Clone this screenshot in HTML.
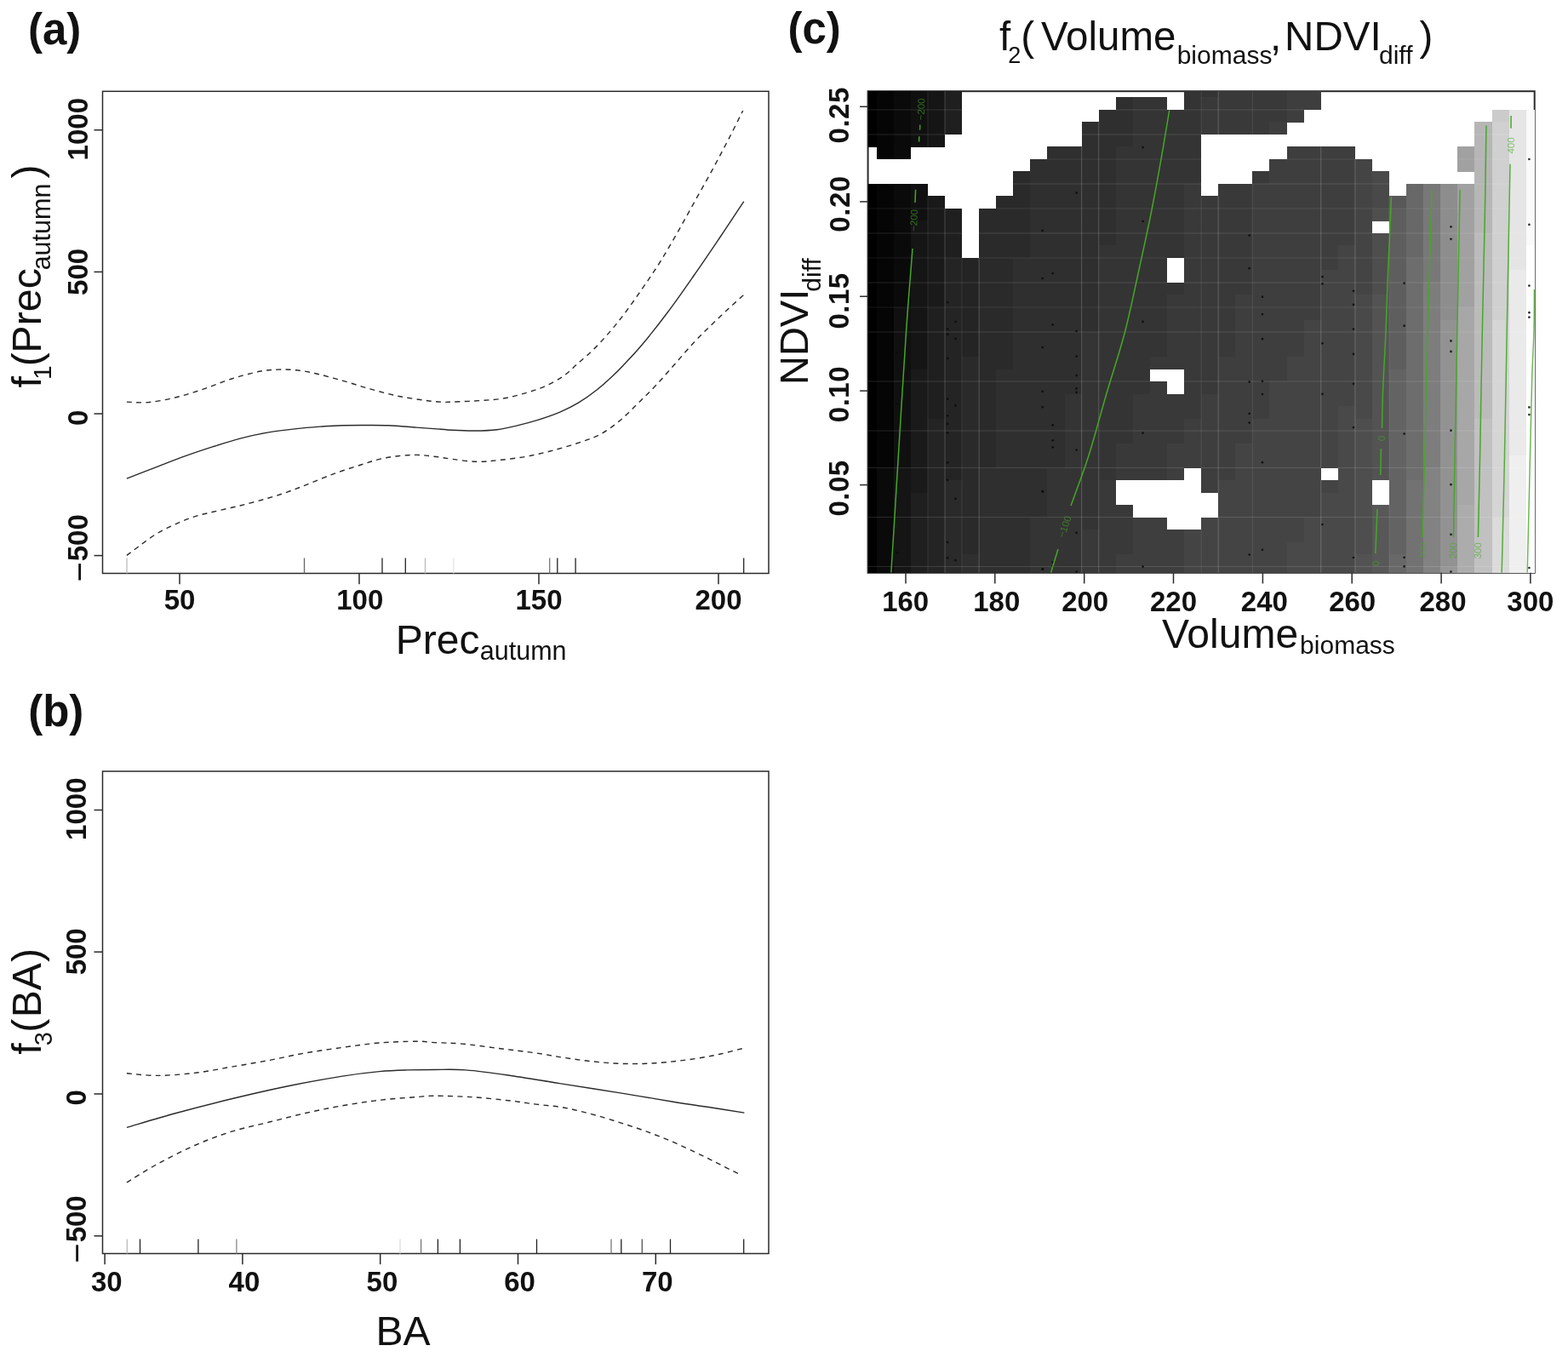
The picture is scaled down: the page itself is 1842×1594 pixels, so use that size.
<!DOCTYPE html>
<html lang="en">
<head>
<meta charset="utf-8">
<title>GAM partial effects</title>
<style>
html,body{margin:0;padding:0;background:#fff;}
body{width:1842px;height:1594px;overflow:hidden;}
svg{display:block;font-family:'Liberation Sans', sans-serif;}
</style>
</head>
<body>
<svg width="1842" height="1594" viewBox="0 0 1842 1594">
<rect x="0" y="0" width="1842" height="1594" fill="#fff"/>
<g id="panel-a">
<rect x="120.5" y="107.3" width="782.5" height="566.2" fill="none" stroke="#2a2a2a" stroke-width="1.50"/>
<line x1="110.5" y1="152.7" x2="120.5" y2="152.7" stroke="#2a2a2a" stroke-width="1.50" />
<text x="103.4" y="151.7" font-size="33" font-weight="bold" text-anchor="middle" fill="#111" transform="rotate(-90 103.4 151.7)" >1000</text>
<line x1="110.5" y1="319.4" x2="120.5" y2="319.4" stroke="#2a2a2a" stroke-width="1.50" />
<text x="103.4" y="319.4" font-size="33" font-weight="bold" text-anchor="middle" fill="#111" transform="rotate(-90 103.4 319.4)" >500</text>
<line x1="110.5" y1="486.0" x2="120.5" y2="486.0" stroke="#2a2a2a" stroke-width="1.50" />
<text x="103.4" y="490.9" font-size="33" font-weight="bold" text-anchor="middle" fill="#111" transform="rotate(-90 103.4 490.9)" >0</text>
<line x1="110.5" y1="652.6" x2="120.5" y2="652.6" stroke="#2a2a2a" stroke-width="1.50" />
<text x="103.4" y="683.6" fill="#111" transform="rotate(-90 103.4 683.6)"><tspan font-size="40" dy="3.4">−</tspan><tspan font-size="33" font-weight="bold" dx="1.0" dy="-3.4">500</tspan></text>
<line x1="211.0" y1="673.5" x2="211.0" y2="686.2" stroke="#2a2a2a" stroke-width="1.50" />
<text x="211.0" y="716.2" font-size="33" font-weight="bold" text-anchor="middle" fill="#111" >50</text>
<line x1="422.0" y1="673.5" x2="422.0" y2="686.2" stroke="#2a2a2a" stroke-width="1.50" />
<text x="422.8" y="716.2" font-size="33" font-weight="bold" text-anchor="middle" fill="#111" >100</text>
<line x1="633.0" y1="673.5" x2="633.0" y2="686.2" stroke="#2a2a2a" stroke-width="1.50" />
<text x="633.0" y="716.2" font-size="33" font-weight="bold" text-anchor="middle" fill="#111" >150</text>
<line x1="844.0" y1="673.5" x2="844.0" y2="686.2" stroke="#2a2a2a" stroke-width="1.50" />
<text x="844.0" y="716.2" font-size="33" font-weight="bold" text-anchor="middle" fill="#111" >200</text>
<line x1="149.0" y1="655.5" x2="149.0" y2="673.5" stroke="#bbb" stroke-width="1.30" />
<line x1="357.5" y1="655.5" x2="357.5" y2="673.5" stroke="#666" stroke-width="1.30" />
<line x1="449.0" y1="655.5" x2="449.0" y2="673.5" stroke="#222" stroke-width="1.30" />
<line x1="476.3" y1="655.5" x2="476.3" y2="673.5" stroke="#222" stroke-width="1.30" />
<line x1="499.5" y1="655.5" x2="499.5" y2="673.5" stroke="#bbb" stroke-width="1.30" />
<line x1="532.8" y1="655.5" x2="532.8" y2="673.5" stroke="#e4e4e4" stroke-width="1.30" />
<line x1="645.7" y1="655.5" x2="645.7" y2="673.5" stroke="#777" stroke-width="1.30" />
<line x1="654.8" y1="655.5" x2="654.8" y2="673.5" stroke="#222" stroke-width="1.30" />
<line x1="676.1" y1="655.5" x2="676.1" y2="673.5" stroke="#222" stroke-width="1.30" />
<line x1="873.7" y1="655.5" x2="873.7" y2="673.5" stroke="#222" stroke-width="1.30" />
<path d="M148.9 562.2C154.9 559.9 173.6 552.5 185.1 548.1C196.6 543.7 206.8 539.6 217.7 535.7C228.6 531.8 239.4 528.2 250.3 524.7C261.2 521.2 272.0 517.7 282.9 514.9C293.8 512.1 304.5 509.8 315.4 507.9C326.2 506.0 337.1 504.8 348.0 503.6C358.9 502.4 371.6 501.5 380.6 500.8C389.7 500.1 395.1 499.9 402.3 499.7C409.5 499.5 414.9 499.5 424.0 499.5C433.1 499.5 445.7 499.3 456.6 499.7C467.5 500.1 480.3 501.5 489.2 502.1C498.1 502.8 502.9 503.1 510.0 503.6C517.1 504.1 523.7 504.9 531.7 505.3C539.7 505.7 549.1 506.1 557.8 506.0C566.5 505.9 575.5 505.7 583.8 504.7C592.1 503.7 599.7 501.8 607.7 499.9C615.7 498.0 623.3 496.0 631.6 493.4C639.9 490.8 649.7 487.5 657.7 484.1C665.7 480.7 672.2 477.6 679.4 473.2C686.6 468.8 694.6 463.1 701.1 458.0C707.6 452.9 713.5 447.5 718.5 442.8C723.5 438.1 725.6 436.0 731.4 429.9C737.2 423.8 744.3 416.8 753.1 406.3C761.9 395.8 773.9 380.8 784.2 367.0C794.6 353.2 804.9 338.3 815.2 323.5C825.6 308.7 836.5 292.5 846.3 278.0C856.1 263.5 869.2 243.5 873.8 236.6" fill="none" stroke="#2a2a2a" stroke-width="1.4"/>
<path d="M148.9 472.1C153.1 472.2 164.6 473.5 174.3 472.6C184.0 471.7 196.1 469.3 206.9 466.7C217.8 464.1 228.6 460.5 239.4 456.9C250.2 453.3 261.1 448.4 272.0 445.0C282.9 441.6 295.6 438.1 304.6 436.3C313.7 434.5 319.1 434.4 326.3 434.1C333.5 433.9 340.8 434.1 348.0 434.8C355.2 435.5 360.6 436.4 369.7 438.5C378.8 440.6 391.4 444.0 402.3 447.1C413.2 450.2 424.0 453.9 434.9 456.9C445.8 459.9 456.5 462.9 467.4 465.2C478.2 467.4 491.2 469.2 500.0 470.4C508.8 471.6 514.7 471.9 520.0 472.2C525.3 472.5 524.3 472.4 531.7 472.1C539.1 471.8 554.2 471.3 564.3 470.6C574.4 469.9 583.5 469.4 592.5 467.8C601.5 466.2 610.6 463.7 618.6 461.3C626.6 458.9 633.1 457.0 640.3 453.7C647.5 450.4 655.8 446.0 662.0 441.7C668.2 437.4 671.0 433.9 677.6 428.0C684.2 422.1 693.0 415.1 701.4 406.3C709.8 397.5 719.7 386.2 728.3 375.3C736.9 364.4 745.2 352.5 753.1 341.1C761.0 329.7 768.6 318.6 775.9 307.0C783.1 295.4 789.7 283.9 796.6 271.8C803.5 259.7 810.4 246.9 817.3 234.5C824.2 222.1 831.5 209.4 838.0 197.3C844.5 185.2 850.8 173.3 856.6 162.1C862.4 150.9 870.0 135.3 872.7 130.0" fill="none" stroke="#2a2a2a" stroke-width="1.4" stroke-dasharray="6 5.3"/>
<path d="M148.9 652.4C151.3 650.6 157.4 645.9 163.4 641.5C169.4 637.1 177.8 630.6 185.1 626.3C192.3 621.9 199.7 618.6 206.9 615.4C214.2 612.1 221.4 609.1 228.6 606.8C235.8 604.4 241.2 603.5 250.3 601.3C259.4 599.1 272.0 596.4 282.9 593.7C293.8 591.0 306.3 587.6 315.4 585.0C324.4 582.4 329.9 580.6 337.2 578.1C344.4 575.6 349.9 573.3 358.9 569.8C367.9 566.2 380.5 560.8 391.4 556.8C402.2 552.8 414.9 548.9 424.0 546.0C433.1 543.1 438.5 541.1 445.7 539.4C452.9 537.7 460.1 536.5 467.4 535.7C474.6 534.9 482.1 534.3 489.2 534.4C496.3 534.5 502.9 535.4 510.0 536.2C517.1 537.0 523.4 538.4 531.7 539.4C540.0 540.4 550.9 542.1 559.9 542.3C568.9 542.5 576.2 541.5 586.0 540.5C595.8 539.5 607.7 538.2 618.6 536.2C629.5 534.2 640.4 531.5 651.2 528.6C662.1 525.7 674.7 521.9 683.7 518.8C692.7 515.7 698.1 514.1 705.4 510.1C712.6 506.1 720.0 500.9 727.2 494.9C734.5 488.9 741.7 481.4 748.9 474.3C756.1 467.2 763.3 460.3 770.6 452.6C777.9 444.9 785.1 436.4 792.5 428.0C799.9 419.6 808.0 409.9 815.2 402.2C822.4 394.4 829.0 388.2 835.9 381.5C842.8 374.8 850.3 367.7 856.6 361.8C862.9 355.9 870.9 348.9 873.8 346.3" fill="none" stroke="#2a2a2a" stroke-width="1.4" stroke-dasharray="6 5.3"/>
</g>
<g id="panel-b">
<rect x="120.5" y="906.0" width="782.5" height="566.5" fill="none" stroke="#2a2a2a" stroke-width="1.50"/>
<line x1="110.5" y1="951.5" x2="120.5" y2="951.5" stroke="#2a2a2a" stroke-width="1.50" />
<text x="101.0" y="950.2" font-size="33" font-weight="bold" text-anchor="middle" fill="#111" transform="rotate(-90 101.0 950.2)" >1000</text>
<line x1="110.5" y1="1118.2" x2="120.5" y2="1118.2" stroke="#2a2a2a" stroke-width="1.50" />
<text x="101.0" y="1117.8" font-size="33" font-weight="bold" text-anchor="middle" fill="#111" transform="rotate(-90 101.0 1117.8)" >500</text>
<line x1="110.5" y1="1285.0" x2="120.5" y2="1285.0" stroke="#2a2a2a" stroke-width="1.50" />
<text x="101.0" y="1289.3" font-size="33" font-weight="bold" text-anchor="middle" fill="#111" transform="rotate(-90 101.0 1289.3)" >0</text>
<line x1="110.5" y1="1451.8" x2="120.5" y2="1451.8" stroke="#2a2a2a" stroke-width="1.50" />
<text x="101.0" y="1483.7" fill="#111" transform="rotate(-90 101.0 1483.7)"><tspan font-size="40" dy="3.4">−</tspan><tspan font-size="33" font-weight="bold" dx="1.0" dy="-3.4">500</tspan></text>
<line x1="123.1" y1="1472.5" x2="123.1" y2="1485.2" stroke="#2a2a2a" stroke-width="1.50" />
<text x="125.3" y="1516.8" font-size="33" font-weight="bold" text-anchor="middle" fill="#111" >30</text>
<line x1="284.9" y1="1472.5" x2="284.9" y2="1485.2" stroke="#2a2a2a" stroke-width="1.50" />
<text x="286.9" y="1516.8" font-size="33" font-weight="bold" text-anchor="middle" fill="#111" >40</text>
<line x1="446.7" y1="1472.5" x2="446.7" y2="1485.2" stroke="#2a2a2a" stroke-width="1.50" />
<text x="448.9" y="1516.8" font-size="33" font-weight="bold" text-anchor="middle" fill="#111" >50</text>
<line x1="608.5" y1="1472.5" x2="608.5" y2="1485.2" stroke="#2a2a2a" stroke-width="1.50" />
<text x="610.5" y="1516.8" font-size="33" font-weight="bold" text-anchor="middle" fill="#111" >60</text>
<line x1="770.3" y1="1472.5" x2="770.3" y2="1485.2" stroke="#2a2a2a" stroke-width="1.50" />
<text x="772.3" y="1516.8" font-size="33" font-weight="bold" text-anchor="middle" fill="#111" >70</text>
<line x1="149.3" y1="1455.5" x2="149.3" y2="1472.5" stroke="#bbb" stroke-width="1.30" />
<line x1="164.5" y1="1455.5" x2="164.5" y2="1472.5" stroke="#222" stroke-width="1.30" />
<line x1="232.9" y1="1455.5" x2="232.9" y2="1472.5" stroke="#222" stroke-width="1.30" />
<line x1="277.9" y1="1455.5" x2="277.9" y2="1472.5" stroke="#888" stroke-width="1.30" />
<line x1="470.0" y1="1455.5" x2="470.0" y2="1472.5" stroke="#ddd" stroke-width="1.30" />
<line x1="494.6" y1="1455.5" x2="494.6" y2="1472.5" stroke="#777" stroke-width="1.30" />
<line x1="514.4" y1="1455.5" x2="514.4" y2="1472.5" stroke="#222" stroke-width="1.30" />
<line x1="540.4" y1="1455.5" x2="540.4" y2="1472.5" stroke="#222" stroke-width="1.30" />
<line x1="630.5" y1="1455.5" x2="630.5" y2="1472.5" stroke="#222" stroke-width="1.30" />
<line x1="718.0" y1="1455.5" x2="718.0" y2="1472.5" stroke="#777" stroke-width="1.30" />
<line x1="729.8" y1="1455.5" x2="729.8" y2="1472.5" stroke="#222" stroke-width="1.30" />
<line x1="754.3" y1="1455.5" x2="754.3" y2="1472.5" stroke="#555" stroke-width="1.30" />
<line x1="787.5" y1="1455.5" x2="787.5" y2="1472.5" stroke="#222" stroke-width="1.30" />
<line x1="873.7" y1="1455.5" x2="873.7" y2="1472.5" stroke="#222" stroke-width="1.30" />
<path d="M148.9 1324.4C158.6 1321.6 186.4 1313.1 206.9 1307.5C227.4 1301.9 250.3 1296.0 272.0 1290.8C293.7 1285.5 315.5 1280.5 337.2 1276.0C358.9 1271.5 384.2 1267.0 402.3 1264.1C420.4 1261.2 433.0 1259.8 445.7 1258.6C458.4 1257.4 467.6 1257.2 478.3 1256.9C489.0 1256.6 498.6 1256.5 510.0 1256.5C521.4 1256.5 532.4 1255.8 546.9 1256.9C561.4 1258.0 577.7 1260.2 596.9 1263.0C616.1 1265.8 640.3 1270.0 662.0 1273.4C683.7 1276.8 705.5 1280.1 727.2 1283.6C748.9 1287.1 774.2 1291.6 792.3 1294.5C810.4 1297.4 822.0 1298.9 835.7 1301.0C849.4 1303.1 868.0 1306.1 874.4 1307.1" fill="none" stroke="#2a2a2a" stroke-width="1.4"/>
<path d="M148.9 1260.8C154.9 1261.2 171.8 1263.5 185.1 1263.4C198.4 1263.3 214.1 1262.1 228.6 1260.4C243.1 1258.7 257.5 1255.7 272.0 1253.2C286.5 1250.7 300.9 1248.3 315.4 1245.6C329.9 1242.9 344.4 1239.4 358.9 1236.9C373.4 1234.4 387.8 1232.4 402.3 1230.4C416.8 1228.4 431.2 1226.2 445.7 1225.0C460.2 1223.8 478.5 1223.3 489.2 1223.2C499.9 1223.1 501.1 1224.1 510.0 1224.6C518.9 1225.1 529.9 1224.9 542.6 1226.1C555.3 1227.2 571.5 1229.7 586.0 1231.5C600.5 1233.3 616.7 1235.1 629.4 1236.9C642.1 1238.7 651.1 1240.7 662.0 1242.3C672.9 1243.9 683.7 1245.5 694.6 1246.7C705.5 1247.9 716.4 1248.9 727.2 1249.3C738.1 1249.7 748.9 1249.7 759.7 1249.3C770.6 1248.9 781.4 1247.9 792.3 1246.7C803.2 1245.5 815.8 1243.8 824.9 1242.3C834.0 1240.8 838.4 1239.9 846.6 1238.0C854.9 1236.1 869.8 1232.2 874.4 1231.1" fill="none" stroke="#2a2a2a" stroke-width="1.4" stroke-dasharray="6 5.3"/>
<path d="M148.9 1388.9C154.9 1385.3 171.8 1374.4 185.1 1367.2C198.4 1360.0 214.1 1351.8 228.6 1345.5C243.1 1339.2 257.5 1333.7 272.0 1329.2C286.5 1324.7 300.9 1321.9 315.4 1318.3C329.9 1314.7 344.4 1310.8 358.9 1307.5C373.4 1304.2 387.8 1301.3 402.3 1298.8C416.8 1296.3 431.2 1294.0 445.7 1292.3C460.2 1290.6 478.5 1289.4 489.2 1288.6C499.9 1287.8 499.3 1287.3 510.0 1287.3C520.7 1287.3 538.9 1287.7 553.4 1288.6C567.9 1289.5 584.2 1291.3 596.9 1292.7C609.6 1294.1 618.5 1295.7 629.4 1297.1C640.2 1298.5 651.1 1299.1 662.0 1301.0C672.9 1302.9 683.7 1305.7 694.6 1308.6C705.5 1311.5 716.4 1314.9 727.2 1318.3C738.1 1321.7 748.9 1325.2 759.7 1329.2C770.6 1333.2 781.4 1337.5 792.3 1342.2C803.2 1346.9 815.8 1353.1 824.9 1357.4C834.0 1361.8 839.0 1364.5 846.6 1368.3C854.2 1372.1 866.5 1378.2 870.5 1380.2" fill="none" stroke="#2a2a2a" stroke-width="1.4" stroke-dasharray="6 5.3"/>
</g>
<g id="panel-c">
<rect x="1019.6" y="107.2" width="783.1" height="565.6" fill="none" stroke="#2a2a2a" stroke-width="2.00"/>
<g id="heat" shape-rendering="crispEdges">
<rect x="1019.60" y="107.20" width="10.09" height="7.30" fill="rgb(0,0,0)"/>
<rect x="1029.64" y="107.20" width="20.13" height="7.30" fill="rgb(5,5,5)"/>
<rect x="1049.72" y="107.20" width="20.13" height="7.30" fill="rgb(10,10,10)"/>
<rect x="1069.80" y="107.20" width="20.13" height="7.30" fill="rgb(16,16,16)"/>
<rect x="1089.88" y="107.20" width="20.13" height="7.30" fill="rgb(21,21,21)"/>
<rect x="1109.96" y="107.20" width="20.13" height="7.30" fill="rgb(31,31,31)"/>
<rect x="1391.07" y="107.20" width="40.21" height="7.30" fill="rgb(52,52,52)"/>
<rect x="1431.23" y="107.20" width="80.37" height="7.30" fill="rgb(57,57,57)"/>
<rect x="1511.55" y="107.20" width="40.21" height="7.30" fill="rgb(62,62,62)"/>
<rect x="1019.60" y="114.45" width="10.09" height="14.55" fill="rgb(0,0,0)"/>
<rect x="1029.64" y="114.45" width="20.13" height="14.55" fill="rgb(5,5,5)"/>
<rect x="1049.72" y="114.45" width="20.13" height="14.55" fill="rgb(10,10,10)"/>
<rect x="1069.80" y="114.45" width="20.13" height="14.55" fill="rgb(16,16,16)"/>
<rect x="1089.88" y="114.45" width="20.13" height="14.55" fill="rgb(21,21,21)"/>
<rect x="1109.96" y="114.45" width="20.13" height="14.55" fill="rgb(31,31,31)"/>
<rect x="1310.75" y="114.45" width="20.13" height="14.55" fill="rgb(47,47,47)"/>
<rect x="1330.83" y="114.45" width="40.21" height="14.55" fill="rgb(52,52,52)"/>
<rect x="1391.07" y="114.45" width="20.13" height="14.55" fill="rgb(52,52,52)"/>
<rect x="1411.15" y="114.45" width="100.45" height="14.55" fill="rgb(57,57,57)"/>
<rect x="1511.55" y="114.45" width="40.21" height="14.55" fill="rgb(62,62,62)"/>
<rect x="1019.60" y="128.95" width="10.09" height="14.55" fill="rgb(0,0,0)"/>
<rect x="1029.64" y="128.95" width="20.13" height="14.55" fill="rgb(5,5,5)"/>
<rect x="1049.72" y="128.95" width="20.13" height="14.55" fill="rgb(10,10,10)"/>
<rect x="1069.80" y="128.95" width="20.13" height="14.55" fill="rgb(16,16,16)"/>
<rect x="1089.88" y="128.95" width="20.13" height="14.55" fill="rgb(21,21,21)"/>
<rect x="1109.96" y="128.95" width="20.13" height="14.55" fill="rgb(31,31,31)"/>
<rect x="1290.67" y="128.95" width="40.21" height="14.55" fill="rgb(47,47,47)"/>
<rect x="1330.83" y="128.95" width="80.37" height="14.55" fill="rgb(52,52,52)"/>
<rect x="1411.15" y="128.95" width="100.45" height="14.55" fill="rgb(57,57,57)"/>
<rect x="1511.55" y="128.95" width="20.13" height="14.55" fill="rgb(62,62,62)"/>
<rect x="1752.50" y="128.95" width="20.13" height="14.55" fill="rgb(203,203,203)"/>
<rect x="1772.58" y="128.95" width="20.13" height="14.55" fill="rgb(229,229,229)"/>
<rect x="1792.66" y="128.95" width="10.09" height="14.55" fill="rgb(250,250,250)"/>
<rect x="1019.60" y="143.46" width="10.09" height="14.55" fill="rgb(0,0,0)"/>
<rect x="1029.64" y="143.46" width="20.13" height="14.55" fill="rgb(5,5,5)"/>
<rect x="1049.72" y="143.46" width="20.13" height="14.55" fill="rgb(10,10,10)"/>
<rect x="1069.80" y="143.46" width="20.13" height="14.55" fill="rgb(16,16,16)"/>
<rect x="1089.88" y="143.46" width="20.13" height="14.55" fill="rgb(21,21,21)"/>
<rect x="1109.96" y="143.46" width="20.13" height="14.55" fill="rgb(31,31,31)"/>
<rect x="1270.59" y="143.46" width="60.29" height="14.55" fill="rgb(47,47,47)"/>
<rect x="1330.83" y="143.46" width="80.37" height="14.55" fill="rgb(52,52,52)"/>
<rect x="1411.15" y="143.46" width="80.37" height="14.55" fill="rgb(57,57,57)"/>
<rect x="1491.47" y="143.46" width="20.13" height="14.55" fill="rgb(62,62,62)"/>
<rect x="1732.42" y="143.46" width="20.13" height="14.55" fill="rgb(182,182,182)"/>
<rect x="1752.50" y="143.46" width="20.13" height="14.55" fill="rgb(208,208,208)"/>
<rect x="1772.58" y="143.46" width="20.13" height="14.55" fill="rgb(229,229,229)"/>
<rect x="1792.66" y="143.46" width="10.09" height="14.55" fill="rgb(250,250,250)"/>
<rect x="1019.60" y="157.96" width="10.09" height="14.55" fill="rgb(0,0,0)"/>
<rect x="1029.64" y="157.96" width="20.13" height="14.55" fill="rgb(5,5,5)"/>
<rect x="1049.72" y="157.96" width="20.13" height="14.55" fill="rgb(10,10,10)"/>
<rect x="1069.80" y="157.96" width="20.13" height="14.55" fill="rgb(16,16,16)"/>
<rect x="1089.88" y="157.96" width="20.13" height="14.55" fill="rgb(21,21,21)"/>
<rect x="1270.59" y="157.96" width="60.29" height="14.55" fill="rgb(47,47,47)"/>
<rect x="1330.83" y="157.96" width="80.37" height="14.55" fill="rgb(52,52,52)"/>
<rect x="1732.42" y="157.96" width="20.13" height="14.55" fill="rgb(182,182,182)"/>
<rect x="1752.50" y="157.96" width="20.13" height="14.55" fill="rgb(208,208,208)"/>
<rect x="1772.58" y="157.96" width="20.13" height="14.55" fill="rgb(229,229,229)"/>
<rect x="1792.66" y="157.96" width="10.09" height="14.55" fill="rgb(250,250,250)"/>
<rect x="1029.64" y="172.46" width="20.13" height="14.55" fill="rgb(5,5,5)"/>
<rect x="1049.72" y="172.46" width="20.13" height="14.55" fill="rgb(10,10,10)"/>
<rect x="1230.43" y="172.46" width="80.37" height="14.55" fill="rgb(47,47,47)"/>
<rect x="1310.75" y="172.46" width="100.45" height="14.55" fill="rgb(52,52,52)"/>
<rect x="1511.55" y="172.46" width="80.37" height="14.55" fill="rgb(62,62,62)"/>
<rect x="1712.34" y="172.46" width="20.13" height="14.55" fill="rgb(161,161,161)"/>
<rect x="1732.42" y="172.46" width="20.13" height="14.55" fill="rgb(182,182,182)"/>
<rect x="1752.50" y="172.46" width="20.13" height="14.55" fill="rgb(208,208,208)"/>
<rect x="1772.58" y="172.46" width="20.13" height="14.55" fill="rgb(229,229,229)"/>
<rect x="1792.66" y="172.46" width="10.09" height="14.55" fill="rgb(250,250,250)"/>
<rect x="1210.36" y="186.96" width="100.45" height="14.55" fill="rgb(47,47,47)"/>
<rect x="1310.75" y="186.96" width="100.45" height="14.55" fill="rgb(52,52,52)"/>
<rect x="1491.47" y="186.96" width="100.45" height="14.55" fill="rgb(62,62,62)"/>
<rect x="1591.87" y="186.96" width="20.13" height="14.55" fill="rgb(68,68,68)"/>
<rect x="1712.34" y="186.96" width="20.13" height="14.55" fill="rgb(161,161,161)"/>
<rect x="1732.42" y="186.96" width="20.13" height="14.55" fill="rgb(182,182,182)"/>
<rect x="1752.50" y="186.96" width="20.13" height="14.55" fill="rgb(208,208,208)"/>
<rect x="1772.58" y="186.96" width="20.13" height="14.55" fill="rgb(229,229,229)"/>
<rect x="1792.66" y="186.96" width="10.09" height="14.55" fill="rgb(250,250,250)"/>
<rect x="1190.28" y="201.47" width="20.13" height="14.55" fill="rgb(42,42,42)"/>
<rect x="1210.36" y="201.47" width="100.45" height="14.55" fill="rgb(47,47,47)"/>
<rect x="1310.75" y="201.47" width="100.45" height="14.55" fill="rgb(52,52,52)"/>
<rect x="1471.39" y="201.47" width="20.13" height="14.55" fill="rgb(57,57,57)"/>
<rect x="1491.47" y="201.47" width="100.45" height="14.55" fill="rgb(62,62,62)"/>
<rect x="1591.87" y="201.47" width="20.13" height="14.55" fill="rgb(68,68,68)"/>
<rect x="1611.94" y="201.47" width="20.13" height="14.55" fill="rgb(73,73,73)"/>
<rect x="1732.42" y="201.47" width="20.13" height="14.55" fill="rgb(182,182,182)"/>
<rect x="1752.50" y="201.47" width="20.13" height="14.55" fill="rgb(208,208,208)"/>
<rect x="1772.58" y="201.47" width="20.13" height="14.55" fill="rgb(229,229,229)"/>
<rect x="1792.66" y="201.47" width="10.09" height="14.55" fill="rgb(250,250,250)"/>
<rect x="1019.60" y="215.97" width="10.09" height="14.55" fill="rgb(0,0,0)"/>
<rect x="1029.64" y="215.97" width="20.13" height="14.55" fill="rgb(5,5,5)"/>
<rect x="1049.72" y="215.97" width="20.13" height="14.55" fill="rgb(10,10,10)"/>
<rect x="1069.80" y="215.97" width="20.13" height="14.55" fill="rgb(16,16,16)"/>
<rect x="1190.28" y="215.97" width="20.13" height="14.55" fill="rgb(42,42,42)"/>
<rect x="1210.36" y="215.97" width="100.45" height="14.55" fill="rgb(47,47,47)"/>
<rect x="1310.75" y="215.97" width="80.37" height="14.55" fill="rgb(52,52,52)"/>
<rect x="1391.07" y="215.97" width="20.13" height="14.55" fill="rgb(57,57,57)"/>
<rect x="1431.23" y="215.97" width="40.21" height="14.55" fill="rgb(57,57,57)"/>
<rect x="1471.39" y="215.97" width="120.53" height="14.55" fill="rgb(62,62,62)"/>
<rect x="1591.87" y="215.97" width="20.13" height="14.55" fill="rgb(68,68,68)"/>
<rect x="1611.94" y="215.97" width="20.13" height="14.55" fill="rgb(73,73,73)"/>
<rect x="1652.10" y="215.97" width="20.13" height="14.55" fill="rgb(104,104,104)"/>
<rect x="1672.18" y="215.97" width="20.13" height="14.55" fill="rgb(120,120,120)"/>
<rect x="1692.26" y="215.97" width="20.13" height="14.55" fill="rgb(141,141,141)"/>
<rect x="1712.34" y="215.97" width="20.13" height="14.55" fill="rgb(161,161,161)"/>
<rect x="1732.42" y="215.97" width="20.13" height="14.55" fill="rgb(182,182,182)"/>
<rect x="1752.50" y="215.97" width="20.13" height="14.55" fill="rgb(208,208,208)"/>
<rect x="1772.58" y="215.97" width="20.13" height="14.55" fill="rgb(229,229,229)"/>
<rect x="1792.66" y="215.97" width="10.09" height="14.55" fill="rgb(250,250,250)"/>
<rect x="1019.60" y="230.47" width="10.09" height="14.55" fill="rgb(0,0,0)"/>
<rect x="1029.64" y="230.47" width="20.13" height="14.55" fill="rgb(5,5,5)"/>
<rect x="1049.72" y="230.47" width="20.13" height="14.55" fill="rgb(10,10,10)"/>
<rect x="1069.80" y="230.47" width="20.13" height="14.55" fill="rgb(16,16,16)"/>
<rect x="1089.88" y="230.47" width="20.13" height="14.55" fill="rgb(26,26,26)"/>
<rect x="1170.20" y="230.47" width="40.21" height="14.55" fill="rgb(42,42,42)"/>
<rect x="1210.36" y="230.47" width="100.45" height="14.55" fill="rgb(47,47,47)"/>
<rect x="1310.75" y="230.47" width="80.37" height="14.55" fill="rgb(52,52,52)"/>
<rect x="1391.07" y="230.47" width="80.37" height="14.55" fill="rgb(57,57,57)"/>
<rect x="1471.39" y="230.47" width="120.53" height="14.55" fill="rgb(62,62,62)"/>
<rect x="1591.87" y="230.47" width="20.13" height="14.55" fill="rgb(68,68,68)"/>
<rect x="1611.94" y="230.47" width="20.13" height="14.55" fill="rgb(73,73,73)"/>
<rect x="1632.02" y="230.47" width="20.13" height="14.55" fill="rgb(88,88,88)"/>
<rect x="1652.10" y="230.47" width="20.13" height="14.55" fill="rgb(104,104,104)"/>
<rect x="1672.18" y="230.47" width="20.13" height="14.55" fill="rgb(120,120,120)"/>
<rect x="1692.26" y="230.47" width="20.13" height="14.55" fill="rgb(141,141,141)"/>
<rect x="1712.34" y="230.47" width="20.13" height="14.55" fill="rgb(161,161,161)"/>
<rect x="1732.42" y="230.47" width="20.13" height="14.55" fill="rgb(182,182,182)"/>
<rect x="1752.50" y="230.47" width="20.13" height="14.55" fill="rgb(208,208,208)"/>
<rect x="1772.58" y="230.47" width="20.13" height="14.55" fill="rgb(229,229,229)"/>
<rect x="1792.66" y="230.47" width="10.09" height="14.55" fill="rgb(250,250,250)"/>
<rect x="1019.60" y="244.97" width="10.09" height="14.55" fill="rgb(0,0,0)"/>
<rect x="1029.64" y="244.97" width="20.13" height="14.55" fill="rgb(5,5,5)"/>
<rect x="1049.72" y="244.97" width="20.13" height="14.55" fill="rgb(10,10,10)"/>
<rect x="1069.80" y="244.97" width="20.13" height="14.55" fill="rgb(16,16,16)"/>
<rect x="1089.88" y="244.97" width="20.13" height="14.55" fill="rgb(26,26,26)"/>
<rect x="1109.96" y="244.97" width="20.13" height="14.55" fill="rgb(31,31,31)"/>
<rect x="1150.12" y="244.97" width="60.29" height="14.55" fill="rgb(42,42,42)"/>
<rect x="1210.36" y="244.97" width="100.45" height="14.55" fill="rgb(47,47,47)"/>
<rect x="1310.75" y="244.97" width="80.37" height="14.55" fill="rgb(52,52,52)"/>
<rect x="1391.07" y="244.97" width="80.37" height="14.55" fill="rgb(57,57,57)"/>
<rect x="1471.39" y="244.97" width="120.53" height="14.55" fill="rgb(62,62,62)"/>
<rect x="1591.87" y="244.97" width="20.13" height="14.55" fill="rgb(68,68,68)"/>
<rect x="1611.94" y="244.97" width="20.13" height="14.55" fill="rgb(78,78,78)"/>
<rect x="1632.02" y="244.97" width="20.13" height="14.55" fill="rgb(94,94,94)"/>
<rect x="1652.10" y="244.97" width="20.13" height="14.55" fill="rgb(104,104,104)"/>
<rect x="1672.18" y="244.97" width="20.13" height="14.55" fill="rgb(120,120,120)"/>
<rect x="1692.26" y="244.97" width="20.13" height="14.55" fill="rgb(141,141,141)"/>
<rect x="1712.34" y="244.97" width="20.13" height="14.55" fill="rgb(161,161,161)"/>
<rect x="1732.42" y="244.97" width="20.13" height="14.55" fill="rgb(182,182,182)"/>
<rect x="1752.50" y="244.97" width="20.13" height="14.55" fill="rgb(208,208,208)"/>
<rect x="1772.58" y="244.97" width="20.13" height="14.55" fill="rgb(229,229,229)"/>
<rect x="1792.66" y="244.97" width="10.09" height="14.55" fill="rgb(250,250,250)"/>
<rect x="1019.60" y="259.48" width="10.09" height="14.55" fill="rgb(0,0,0)"/>
<rect x="1029.64" y="259.48" width="20.13" height="14.55" fill="rgb(5,5,5)"/>
<rect x="1049.72" y="259.48" width="20.13" height="14.55" fill="rgb(10,10,10)"/>
<rect x="1069.80" y="259.48" width="20.13" height="14.55" fill="rgb(21,21,21)"/>
<rect x="1089.88" y="259.48" width="20.13" height="14.55" fill="rgb(26,26,26)"/>
<rect x="1109.96" y="259.48" width="20.13" height="14.55" fill="rgb(31,31,31)"/>
<rect x="1150.12" y="259.48" width="60.29" height="14.55" fill="rgb(42,42,42)"/>
<rect x="1210.36" y="259.48" width="100.45" height="14.55" fill="rgb(47,47,47)"/>
<rect x="1310.75" y="259.48" width="80.37" height="14.55" fill="rgb(52,52,52)"/>
<rect x="1391.07" y="259.48" width="80.37" height="14.55" fill="rgb(57,57,57)"/>
<rect x="1471.39" y="259.48" width="120.53" height="14.55" fill="rgb(62,62,62)"/>
<rect x="1591.87" y="259.48" width="20.13" height="14.55" fill="rgb(68,68,68)"/>
<rect x="1632.02" y="259.48" width="20.13" height="14.55" fill="rgb(94,94,94)"/>
<rect x="1652.10" y="259.48" width="20.13" height="14.55" fill="rgb(104,104,104)"/>
<rect x="1672.18" y="259.48" width="20.13" height="14.55" fill="rgb(120,120,120)"/>
<rect x="1692.26" y="259.48" width="20.13" height="14.55" fill="rgb(141,141,141)"/>
<rect x="1712.34" y="259.48" width="20.13" height="14.55" fill="rgb(161,161,161)"/>
<rect x="1732.42" y="259.48" width="20.13" height="14.55" fill="rgb(182,182,182)"/>
<rect x="1752.50" y="259.48" width="20.13" height="14.55" fill="rgb(208,208,208)"/>
<rect x="1772.58" y="259.48" width="20.13" height="14.55" fill="rgb(229,229,229)"/>
<rect x="1792.66" y="259.48" width="10.09" height="14.55" fill="rgb(250,250,250)"/>
<rect x="1019.60" y="273.98" width="10.09" height="14.55" fill="rgb(0,0,0)"/>
<rect x="1029.64" y="273.98" width="20.13" height="14.55" fill="rgb(5,5,5)"/>
<rect x="1049.72" y="273.98" width="20.13" height="14.55" fill="rgb(10,10,10)"/>
<rect x="1069.80" y="273.98" width="20.13" height="14.55" fill="rgb(21,21,21)"/>
<rect x="1089.88" y="273.98" width="20.13" height="14.55" fill="rgb(26,26,26)"/>
<rect x="1109.96" y="273.98" width="20.13" height="14.55" fill="rgb(31,31,31)"/>
<rect x="1150.12" y="273.98" width="60.29" height="14.55" fill="rgb(42,42,42)"/>
<rect x="1210.36" y="273.98" width="100.45" height="14.55" fill="rgb(47,47,47)"/>
<rect x="1310.75" y="273.98" width="80.37" height="14.55" fill="rgb(52,52,52)"/>
<rect x="1391.07" y="273.98" width="80.37" height="14.55" fill="rgb(57,57,57)"/>
<rect x="1471.39" y="273.98" width="120.53" height="14.55" fill="rgb(62,62,62)"/>
<rect x="1591.87" y="273.98" width="20.13" height="14.55" fill="rgb(68,68,68)"/>
<rect x="1611.94" y="273.98" width="20.13" height="14.55" fill="rgb(78,78,78)"/>
<rect x="1632.02" y="273.98" width="20.13" height="14.55" fill="rgb(94,94,94)"/>
<rect x="1652.10" y="273.98" width="20.13" height="14.55" fill="rgb(104,104,104)"/>
<rect x="1672.18" y="273.98" width="20.13" height="14.55" fill="rgb(120,120,120)"/>
<rect x="1692.26" y="273.98" width="20.13" height="14.55" fill="rgb(141,141,141)"/>
<rect x="1712.34" y="273.98" width="20.13" height="14.55" fill="rgb(161,161,161)"/>
<rect x="1732.42" y="273.98" width="20.13" height="14.55" fill="rgb(187,187,187)"/>
<rect x="1752.50" y="273.98" width="20.13" height="14.55" fill="rgb(208,208,208)"/>
<rect x="1772.58" y="273.98" width="20.13" height="14.55" fill="rgb(229,229,229)"/>
<rect x="1792.66" y="273.98" width="10.09" height="14.55" fill="rgb(250,250,250)"/>
<rect x="1019.60" y="288.48" width="10.09" height="14.55" fill="rgb(0,0,0)"/>
<rect x="1029.64" y="288.48" width="20.13" height="14.55" fill="rgb(5,5,5)"/>
<rect x="1049.72" y="288.48" width="20.13" height="14.55" fill="rgb(10,10,10)"/>
<rect x="1069.80" y="288.48" width="20.13" height="14.55" fill="rgb(21,21,21)"/>
<rect x="1089.88" y="288.48" width="20.13" height="14.55" fill="rgb(26,26,26)"/>
<rect x="1109.96" y="288.48" width="20.13" height="14.55" fill="rgb(31,31,31)"/>
<rect x="1150.12" y="288.48" width="60.29" height="14.55" fill="rgb(42,42,42)"/>
<rect x="1210.36" y="288.48" width="80.37" height="14.55" fill="rgb(47,47,47)"/>
<rect x="1290.67" y="288.48" width="100.45" height="14.55" fill="rgb(52,52,52)"/>
<rect x="1391.07" y="288.48" width="80.37" height="14.55" fill="rgb(57,57,57)"/>
<rect x="1471.39" y="288.48" width="100.45" height="14.55" fill="rgb(62,62,62)"/>
<rect x="1571.79" y="288.48" width="40.21" height="14.55" fill="rgb(68,68,68)"/>
<rect x="1611.94" y="288.48" width="20.13" height="14.55" fill="rgb(78,78,78)"/>
<rect x="1632.02" y="288.48" width="20.13" height="14.55" fill="rgb(94,94,94)"/>
<rect x="1652.10" y="288.48" width="20.13" height="14.55" fill="rgb(104,104,104)"/>
<rect x="1672.18" y="288.48" width="20.13" height="14.55" fill="rgb(120,120,120)"/>
<rect x="1692.26" y="288.48" width="20.13" height="14.55" fill="rgb(141,141,141)"/>
<rect x="1712.34" y="288.48" width="20.13" height="14.55" fill="rgb(161,161,161)"/>
<rect x="1732.42" y="288.48" width="20.13" height="14.55" fill="rgb(187,187,187)"/>
<rect x="1752.50" y="288.48" width="20.13" height="14.55" fill="rgb(208,208,208)"/>
<rect x="1772.58" y="288.48" width="20.13" height="14.55" fill="rgb(229,229,229)"/>
<rect x="1792.66" y="288.48" width="10.09" height="14.55" fill="rgb(255,255,255)"/>
<rect x="1019.60" y="302.98" width="10.09" height="14.55" fill="rgb(0,0,0)"/>
<rect x="1029.64" y="302.98" width="20.13" height="14.55" fill="rgb(5,5,5)"/>
<rect x="1049.72" y="302.98" width="20.13" height="14.55" fill="rgb(10,10,10)"/>
<rect x="1069.80" y="302.98" width="20.13" height="14.55" fill="rgb(21,21,21)"/>
<rect x="1089.88" y="302.98" width="20.13" height="14.55" fill="rgb(26,26,26)"/>
<rect x="1109.96" y="302.98" width="40.21" height="14.55" fill="rgb(36,36,36)"/>
<rect x="1150.12" y="302.98" width="40.21" height="14.55" fill="rgb(42,42,42)"/>
<rect x="1190.28" y="302.98" width="100.45" height="14.55" fill="rgb(47,47,47)"/>
<rect x="1290.67" y="302.98" width="80.37" height="14.55" fill="rgb(52,52,52)"/>
<rect x="1391.07" y="302.98" width="80.37" height="14.55" fill="rgb(57,57,57)"/>
<rect x="1471.39" y="302.98" width="100.45" height="14.55" fill="rgb(62,62,62)"/>
<rect x="1571.79" y="302.98" width="40.21" height="14.55" fill="rgb(68,68,68)"/>
<rect x="1611.94" y="302.98" width="20.13" height="14.55" fill="rgb(78,78,78)"/>
<rect x="1632.02" y="302.98" width="20.13" height="14.55" fill="rgb(94,94,94)"/>
<rect x="1652.10" y="302.98" width="20.13" height="14.55" fill="rgb(109,109,109)"/>
<rect x="1672.18" y="302.98" width="20.13" height="14.55" fill="rgb(120,120,120)"/>
<rect x="1692.26" y="302.98" width="20.13" height="14.55" fill="rgb(141,141,141)"/>
<rect x="1712.34" y="302.98" width="20.13" height="14.55" fill="rgb(161,161,161)"/>
<rect x="1732.42" y="302.98" width="20.13" height="14.55" fill="rgb(187,187,187)"/>
<rect x="1752.50" y="302.98" width="20.13" height="14.55" fill="rgb(208,208,208)"/>
<rect x="1772.58" y="302.98" width="20.13" height="14.55" fill="rgb(229,229,229)"/>
<rect x="1792.66" y="302.98" width="10.09" height="14.55" fill="rgb(255,255,255)"/>
<rect x="1019.60" y="317.49" width="10.09" height="14.55" fill="rgb(0,0,0)"/>
<rect x="1029.64" y="317.49" width="20.13" height="14.55" fill="rgb(5,5,5)"/>
<rect x="1049.72" y="317.49" width="20.13" height="14.55" fill="rgb(10,10,10)"/>
<rect x="1069.80" y="317.49" width="20.13" height="14.55" fill="rgb(21,21,21)"/>
<rect x="1089.88" y="317.49" width="20.13" height="14.55" fill="rgb(26,26,26)"/>
<rect x="1109.96" y="317.49" width="40.21" height="14.55" fill="rgb(36,36,36)"/>
<rect x="1150.12" y="317.49" width="40.21" height="14.55" fill="rgb(42,42,42)"/>
<rect x="1190.28" y="317.49" width="100.45" height="14.55" fill="rgb(47,47,47)"/>
<rect x="1290.67" y="317.49" width="80.37" height="14.55" fill="rgb(52,52,52)"/>
<rect x="1391.07" y="317.49" width="80.37" height="14.55" fill="rgb(57,57,57)"/>
<rect x="1471.39" y="317.49" width="80.37" height="14.55" fill="rgb(62,62,62)"/>
<rect x="1551.71" y="317.49" width="60.29" height="14.55" fill="rgb(68,68,68)"/>
<rect x="1611.94" y="317.49" width="20.13" height="14.55" fill="rgb(78,78,78)"/>
<rect x="1632.02" y="317.49" width="20.13" height="14.55" fill="rgb(94,94,94)"/>
<rect x="1652.10" y="317.49" width="20.13" height="14.55" fill="rgb(109,109,109)"/>
<rect x="1672.18" y="317.49" width="20.13" height="14.55" fill="rgb(120,120,120)"/>
<rect x="1692.26" y="317.49" width="20.13" height="14.55" fill="rgb(141,141,141)"/>
<rect x="1712.34" y="317.49" width="20.13" height="14.55" fill="rgb(161,161,161)"/>
<rect x="1732.42" y="317.49" width="20.13" height="14.55" fill="rgb(187,187,187)"/>
<rect x="1752.50" y="317.49" width="20.13" height="14.55" fill="rgb(208,208,208)"/>
<rect x="1772.58" y="317.49" width="20.13" height="14.55" fill="rgb(234,234,234)"/>
<rect x="1792.66" y="317.49" width="10.09" height="14.55" fill="rgb(255,255,255)"/>
<rect x="1019.60" y="331.99" width="10.09" height="14.55" fill="rgb(0,0,0)"/>
<rect x="1029.64" y="331.99" width="20.13" height="14.55" fill="rgb(5,5,5)"/>
<rect x="1049.72" y="331.99" width="20.13" height="14.55" fill="rgb(10,10,10)"/>
<rect x="1069.80" y="331.99" width="20.13" height="14.55" fill="rgb(21,21,21)"/>
<rect x="1089.88" y="331.99" width="20.13" height="14.55" fill="rgb(26,26,26)"/>
<rect x="1109.96" y="331.99" width="40.21" height="14.55" fill="rgb(36,36,36)"/>
<rect x="1150.12" y="331.99" width="40.21" height="14.55" fill="rgb(42,42,42)"/>
<rect x="1190.28" y="331.99" width="100.45" height="14.55" fill="rgb(47,47,47)"/>
<rect x="1290.67" y="331.99" width="100.45" height="14.55" fill="rgb(52,52,52)"/>
<rect x="1391.07" y="331.99" width="80.37" height="14.55" fill="rgb(57,57,57)"/>
<rect x="1471.39" y="331.99" width="80.37" height="14.55" fill="rgb(62,62,62)"/>
<rect x="1551.71" y="331.99" width="60.29" height="14.55" fill="rgb(68,68,68)"/>
<rect x="1611.94" y="331.99" width="20.13" height="14.55" fill="rgb(78,78,78)"/>
<rect x="1632.02" y="331.99" width="20.13" height="14.55" fill="rgb(94,94,94)"/>
<rect x="1652.10" y="331.99" width="20.13" height="14.55" fill="rgb(109,109,109)"/>
<rect x="1672.18" y="331.99" width="20.13" height="14.55" fill="rgb(125,125,125)"/>
<rect x="1692.26" y="331.99" width="20.13" height="14.55" fill="rgb(141,141,141)"/>
<rect x="1712.34" y="331.99" width="20.13" height="14.55" fill="rgb(161,161,161)"/>
<rect x="1732.42" y="331.99" width="20.13" height="14.55" fill="rgb(187,187,187)"/>
<rect x="1752.50" y="331.99" width="20.13" height="14.55" fill="rgb(208,208,208)"/>
<rect x="1772.58" y="331.99" width="20.13" height="14.55" fill="rgb(234,234,234)"/>
<rect x="1792.66" y="331.99" width="10.09" height="14.55" fill="rgb(255,255,255)"/>
<rect x="1019.60" y="346.49" width="10.09" height="14.55" fill="rgb(0,0,0)"/>
<rect x="1029.64" y="346.49" width="20.13" height="14.55" fill="rgb(5,5,5)"/>
<rect x="1049.72" y="346.49" width="20.13" height="14.55" fill="rgb(10,10,10)"/>
<rect x="1069.80" y="346.49" width="20.13" height="14.55" fill="rgb(21,21,21)"/>
<rect x="1089.88" y="346.49" width="20.13" height="14.55" fill="rgb(26,26,26)"/>
<rect x="1109.96" y="346.49" width="40.21" height="14.55" fill="rgb(36,36,36)"/>
<rect x="1150.12" y="346.49" width="40.21" height="14.55" fill="rgb(42,42,42)"/>
<rect x="1190.28" y="346.49" width="100.45" height="14.55" fill="rgb(47,47,47)"/>
<rect x="1290.67" y="346.49" width="80.37" height="14.55" fill="rgb(52,52,52)"/>
<rect x="1370.99" y="346.49" width="80.37" height="14.55" fill="rgb(57,57,57)"/>
<rect x="1451.31" y="346.49" width="100.45" height="14.55" fill="rgb(62,62,62)"/>
<rect x="1551.71" y="346.49" width="40.21" height="14.55" fill="rgb(68,68,68)"/>
<rect x="1591.87" y="346.49" width="20.13" height="14.55" fill="rgb(73,73,73)"/>
<rect x="1611.94" y="346.49" width="20.13" height="14.55" fill="rgb(83,83,83)"/>
<rect x="1632.02" y="346.49" width="20.13" height="14.55" fill="rgb(94,94,94)"/>
<rect x="1652.10" y="346.49" width="20.13" height="14.55" fill="rgb(109,109,109)"/>
<rect x="1672.18" y="346.49" width="20.13" height="14.55" fill="rgb(125,125,125)"/>
<rect x="1692.26" y="346.49" width="20.13" height="14.55" fill="rgb(141,141,141)"/>
<rect x="1712.34" y="346.49" width="20.13" height="14.55" fill="rgb(161,161,161)"/>
<rect x="1732.42" y="346.49" width="20.13" height="14.55" fill="rgb(187,187,187)"/>
<rect x="1752.50" y="346.49" width="20.13" height="14.55" fill="rgb(208,208,208)"/>
<rect x="1772.58" y="346.49" width="20.13" height="14.55" fill="rgb(234,234,234)"/>
<rect x="1792.66" y="346.49" width="10.09" height="14.55" fill="rgb(255,255,255)"/>
<rect x="1019.60" y="360.99" width="10.09" height="14.55" fill="rgb(0,0,0)"/>
<rect x="1029.64" y="360.99" width="20.13" height="14.55" fill="rgb(5,5,5)"/>
<rect x="1049.72" y="360.99" width="20.13" height="14.55" fill="rgb(16,16,16)"/>
<rect x="1069.80" y="360.99" width="20.13" height="14.55" fill="rgb(21,21,21)"/>
<rect x="1089.88" y="360.99" width="20.13" height="14.55" fill="rgb(31,31,31)"/>
<rect x="1109.96" y="360.99" width="40.21" height="14.55" fill="rgb(36,36,36)"/>
<rect x="1150.12" y="360.99" width="40.21" height="14.55" fill="rgb(42,42,42)"/>
<rect x="1190.28" y="360.99" width="100.45" height="14.55" fill="rgb(47,47,47)"/>
<rect x="1290.67" y="360.99" width="80.37" height="14.55" fill="rgb(52,52,52)"/>
<rect x="1370.99" y="360.99" width="80.37" height="14.55" fill="rgb(57,57,57)"/>
<rect x="1451.31" y="360.99" width="100.45" height="14.55" fill="rgb(62,62,62)"/>
<rect x="1551.71" y="360.99" width="40.21" height="14.55" fill="rgb(68,68,68)"/>
<rect x="1591.87" y="360.99" width="20.13" height="14.55" fill="rgb(73,73,73)"/>
<rect x="1611.94" y="360.99" width="20.13" height="14.55" fill="rgb(83,83,83)"/>
<rect x="1632.02" y="360.99" width="20.13" height="14.55" fill="rgb(94,94,94)"/>
<rect x="1652.10" y="360.99" width="20.13" height="14.55" fill="rgb(109,109,109)"/>
<rect x="1672.18" y="360.99" width="20.13" height="14.55" fill="rgb(125,125,125)"/>
<rect x="1692.26" y="360.99" width="20.13" height="14.55" fill="rgb(141,141,141)"/>
<rect x="1712.34" y="360.99" width="20.13" height="14.55" fill="rgb(167,167,167)"/>
<rect x="1732.42" y="360.99" width="20.13" height="14.55" fill="rgb(187,187,187)"/>
<rect x="1752.50" y="360.99" width="20.13" height="14.55" fill="rgb(208,208,208)"/>
<rect x="1772.58" y="360.99" width="20.13" height="14.55" fill="rgb(234,234,234)"/>
<rect x="1792.66" y="360.99" width="10.09" height="14.55" fill="rgb(255,255,255)"/>
<rect x="1019.60" y="375.50" width="10.09" height="14.55" fill="rgb(0,0,0)"/>
<rect x="1029.64" y="375.50" width="20.13" height="14.55" fill="rgb(5,5,5)"/>
<rect x="1049.72" y="375.50" width="20.13" height="14.55" fill="rgb(16,16,16)"/>
<rect x="1069.80" y="375.50" width="20.13" height="14.55" fill="rgb(21,21,21)"/>
<rect x="1089.88" y="375.50" width="20.13" height="14.55" fill="rgb(31,31,31)"/>
<rect x="1109.96" y="375.50" width="40.21" height="14.55" fill="rgb(36,36,36)"/>
<rect x="1150.12" y="375.50" width="40.21" height="14.55" fill="rgb(42,42,42)"/>
<rect x="1190.28" y="375.50" width="100.45" height="14.55" fill="rgb(47,47,47)"/>
<rect x="1290.67" y="375.50" width="80.37" height="14.55" fill="rgb(52,52,52)"/>
<rect x="1370.99" y="375.50" width="80.37" height="14.55" fill="rgb(57,57,57)"/>
<rect x="1451.31" y="375.50" width="80.37" height="14.55" fill="rgb(62,62,62)"/>
<rect x="1531.63" y="375.50" width="60.29" height="14.55" fill="rgb(68,68,68)"/>
<rect x="1591.87" y="375.50" width="20.13" height="14.55" fill="rgb(73,73,73)"/>
<rect x="1611.94" y="375.50" width="20.13" height="14.55" fill="rgb(83,83,83)"/>
<rect x="1632.02" y="375.50" width="20.13" height="14.55" fill="rgb(94,94,94)"/>
<rect x="1652.10" y="375.50" width="20.13" height="14.55" fill="rgb(109,109,109)"/>
<rect x="1672.18" y="375.50" width="20.13" height="14.55" fill="rgb(125,125,125)"/>
<rect x="1692.26" y="375.50" width="20.13" height="14.55" fill="rgb(146,146,146)"/>
<rect x="1712.34" y="375.50" width="20.13" height="14.55" fill="rgb(167,167,167)"/>
<rect x="1732.42" y="375.50" width="20.13" height="14.55" fill="rgb(187,187,187)"/>
<rect x="1752.50" y="375.50" width="20.13" height="14.55" fill="rgb(213,213,213)"/>
<rect x="1772.58" y="375.50" width="20.13" height="14.55" fill="rgb(234,234,234)"/>
<rect x="1792.66" y="375.50" width="10.09" height="14.55" fill="rgb(255,255,255)"/>
<rect x="1019.60" y="390.00" width="10.09" height="14.55" fill="rgb(0,0,0)"/>
<rect x="1029.64" y="390.00" width="20.13" height="14.55" fill="rgb(5,5,5)"/>
<rect x="1049.72" y="390.00" width="20.13" height="14.55" fill="rgb(16,16,16)"/>
<rect x="1069.80" y="390.00" width="20.13" height="14.55" fill="rgb(21,21,21)"/>
<rect x="1089.88" y="390.00" width="20.13" height="14.55" fill="rgb(31,31,31)"/>
<rect x="1109.96" y="390.00" width="40.21" height="14.55" fill="rgb(36,36,36)"/>
<rect x="1150.12" y="390.00" width="40.21" height="14.55" fill="rgb(42,42,42)"/>
<rect x="1190.28" y="390.00" width="80.37" height="14.55" fill="rgb(47,47,47)"/>
<rect x="1270.59" y="390.00" width="100.45" height="14.55" fill="rgb(52,52,52)"/>
<rect x="1370.99" y="390.00" width="80.37" height="14.55" fill="rgb(57,57,57)"/>
<rect x="1451.31" y="390.00" width="80.37" height="14.55" fill="rgb(62,62,62)"/>
<rect x="1531.63" y="390.00" width="60.29" height="14.55" fill="rgb(68,68,68)"/>
<rect x="1591.87" y="390.00" width="20.13" height="14.55" fill="rgb(73,73,73)"/>
<rect x="1611.94" y="390.00" width="20.13" height="14.55" fill="rgb(83,83,83)"/>
<rect x="1632.02" y="390.00" width="20.13" height="14.55" fill="rgb(94,94,94)"/>
<rect x="1652.10" y="390.00" width="20.13" height="14.55" fill="rgb(109,109,109)"/>
<rect x="1672.18" y="390.00" width="20.13" height="14.55" fill="rgb(125,125,125)"/>
<rect x="1692.26" y="390.00" width="20.13" height="14.55" fill="rgb(146,146,146)"/>
<rect x="1712.34" y="390.00" width="20.13" height="14.55" fill="rgb(167,167,167)"/>
<rect x="1732.42" y="390.00" width="20.13" height="14.55" fill="rgb(187,187,187)"/>
<rect x="1752.50" y="390.00" width="20.13" height="14.55" fill="rgb(213,213,213)"/>
<rect x="1772.58" y="390.00" width="20.13" height="14.55" fill="rgb(234,234,234)"/>
<rect x="1792.66" y="390.00" width="10.09" height="14.55" fill="rgb(255,255,255)"/>
<rect x="1019.60" y="404.50" width="10.09" height="14.55" fill="rgb(0,0,0)"/>
<rect x="1029.64" y="404.50" width="20.13" height="14.55" fill="rgb(5,5,5)"/>
<rect x="1049.72" y="404.50" width="20.13" height="14.55" fill="rgb(16,16,16)"/>
<rect x="1069.80" y="404.50" width="20.13" height="14.55" fill="rgb(21,21,21)"/>
<rect x="1089.88" y="404.50" width="20.13" height="14.55" fill="rgb(31,31,31)"/>
<rect x="1109.96" y="404.50" width="40.21" height="14.55" fill="rgb(36,36,36)"/>
<rect x="1150.12" y="404.50" width="40.21" height="14.55" fill="rgb(42,42,42)"/>
<rect x="1190.28" y="404.50" width="80.37" height="14.55" fill="rgb(47,47,47)"/>
<rect x="1270.59" y="404.50" width="100.45" height="14.55" fill="rgb(52,52,52)"/>
<rect x="1370.99" y="404.50" width="80.37" height="14.55" fill="rgb(57,57,57)"/>
<rect x="1451.31" y="404.50" width="80.37" height="14.55" fill="rgb(62,62,62)"/>
<rect x="1531.63" y="404.50" width="60.29" height="14.55" fill="rgb(68,68,68)"/>
<rect x="1591.87" y="404.50" width="20.13" height="14.55" fill="rgb(73,73,73)"/>
<rect x="1611.94" y="404.50" width="20.13" height="14.55" fill="rgb(83,83,83)"/>
<rect x="1632.02" y="404.50" width="20.13" height="14.55" fill="rgb(94,94,94)"/>
<rect x="1652.10" y="404.50" width="20.13" height="14.55" fill="rgb(109,109,109)"/>
<rect x="1672.18" y="404.50" width="20.13" height="14.55" fill="rgb(125,125,125)"/>
<rect x="1692.26" y="404.50" width="20.13" height="14.55" fill="rgb(146,146,146)"/>
<rect x="1712.34" y="404.50" width="20.13" height="14.55" fill="rgb(167,167,167)"/>
<rect x="1732.42" y="404.50" width="20.13" height="14.55" fill="rgb(187,187,187)"/>
<rect x="1752.50" y="404.50" width="20.13" height="14.55" fill="rgb(213,213,213)"/>
<rect x="1772.58" y="404.50" width="20.13" height="14.55" fill="rgb(234,234,234)"/>
<rect x="1792.66" y="404.50" width="10.09" height="14.55" fill="rgb(255,255,255)"/>
<rect x="1019.60" y="419.01" width="10.09" height="14.55" fill="rgb(0,0,0)"/>
<rect x="1029.64" y="419.01" width="20.13" height="14.55" fill="rgb(5,5,5)"/>
<rect x="1049.72" y="419.01" width="20.13" height="14.55" fill="rgb(16,16,16)"/>
<rect x="1069.80" y="419.01" width="20.13" height="14.55" fill="rgb(21,21,21)"/>
<rect x="1089.88" y="419.01" width="20.13" height="14.55" fill="rgb(31,31,31)"/>
<rect x="1109.96" y="419.01" width="20.13" height="14.55" fill="rgb(36,36,36)"/>
<rect x="1130.04" y="419.01" width="60.29" height="14.55" fill="rgb(42,42,42)"/>
<rect x="1190.28" y="419.01" width="80.37" height="14.55" fill="rgb(47,47,47)"/>
<rect x="1270.59" y="419.01" width="80.37" height="14.55" fill="rgb(52,52,52)"/>
<rect x="1350.91" y="419.01" width="80.37" height="14.55" fill="rgb(57,57,57)"/>
<rect x="1431.23" y="419.01" width="80.37" height="14.55" fill="rgb(62,62,62)"/>
<rect x="1511.55" y="419.01" width="80.37" height="14.55" fill="rgb(68,68,68)"/>
<rect x="1591.87" y="419.01" width="20.13" height="14.55" fill="rgb(73,73,73)"/>
<rect x="1611.94" y="419.01" width="20.13" height="14.55" fill="rgb(83,83,83)"/>
<rect x="1632.02" y="419.01" width="20.13" height="14.55" fill="rgb(94,94,94)"/>
<rect x="1652.10" y="419.01" width="20.13" height="14.55" fill="rgb(109,109,109)"/>
<rect x="1672.18" y="419.01" width="20.13" height="14.55" fill="rgb(125,125,125)"/>
<rect x="1692.26" y="419.01" width="20.13" height="14.55" fill="rgb(146,146,146)"/>
<rect x="1712.34" y="419.01" width="20.13" height="14.55" fill="rgb(167,167,167)"/>
<rect x="1732.42" y="419.01" width="20.13" height="14.55" fill="rgb(187,187,187)"/>
<rect x="1752.50" y="419.01" width="20.13" height="14.55" fill="rgb(213,213,213)"/>
<rect x="1772.58" y="419.01" width="20.13" height="14.55" fill="rgb(234,234,234)"/>
<rect x="1792.66" y="419.01" width="10.09" height="14.55" fill="rgb(255,255,255)"/>
<rect x="1019.60" y="433.51" width="10.09" height="14.55" fill="rgb(0,0,0)"/>
<rect x="1029.64" y="433.51" width="20.13" height="14.55" fill="rgb(5,5,5)"/>
<rect x="1049.72" y="433.51" width="20.13" height="14.55" fill="rgb(16,16,16)"/>
<rect x="1069.80" y="433.51" width="20.13" height="14.55" fill="rgb(26,26,26)"/>
<rect x="1089.88" y="433.51" width="20.13" height="14.55" fill="rgb(31,31,31)"/>
<rect x="1109.96" y="433.51" width="20.13" height="14.55" fill="rgb(36,36,36)"/>
<rect x="1130.04" y="433.51" width="40.21" height="14.55" fill="rgb(42,42,42)"/>
<rect x="1170.20" y="433.51" width="100.45" height="14.55" fill="rgb(47,47,47)"/>
<rect x="1270.59" y="433.51" width="80.37" height="14.55" fill="rgb(52,52,52)"/>
<rect x="1391.07" y="433.51" width="40.21" height="14.55" fill="rgb(57,57,57)"/>
<rect x="1431.23" y="433.51" width="80.37" height="14.55" fill="rgb(62,62,62)"/>
<rect x="1511.55" y="433.51" width="80.37" height="14.55" fill="rgb(68,68,68)"/>
<rect x="1591.87" y="433.51" width="20.13" height="14.55" fill="rgb(73,73,73)"/>
<rect x="1611.94" y="433.51" width="20.13" height="14.55" fill="rgb(83,83,83)"/>
<rect x="1632.02" y="433.51" width="20.13" height="14.55" fill="rgb(99,99,99)"/>
<rect x="1652.10" y="433.51" width="20.13" height="14.55" fill="rgb(109,109,109)"/>
<rect x="1672.18" y="433.51" width="20.13" height="14.55" fill="rgb(125,125,125)"/>
<rect x="1692.26" y="433.51" width="20.13" height="14.55" fill="rgb(146,146,146)"/>
<rect x="1712.34" y="433.51" width="20.13" height="14.55" fill="rgb(167,167,167)"/>
<rect x="1732.42" y="433.51" width="20.13" height="14.55" fill="rgb(187,187,187)"/>
<rect x="1752.50" y="433.51" width="20.13" height="14.55" fill="rgb(213,213,213)"/>
<rect x="1772.58" y="433.51" width="20.13" height="14.55" fill="rgb(234,234,234)"/>
<rect x="1792.66" y="433.51" width="10.09" height="14.55" fill="rgb(255,255,255)"/>
<rect x="1019.60" y="448.01" width="10.09" height="14.55" fill="rgb(0,0,0)"/>
<rect x="1029.64" y="448.01" width="20.13" height="14.55" fill="rgb(5,5,5)"/>
<rect x="1049.72" y="448.01" width="20.13" height="14.55" fill="rgb(16,16,16)"/>
<rect x="1069.80" y="448.01" width="20.13" height="14.55" fill="rgb(26,26,26)"/>
<rect x="1089.88" y="448.01" width="20.13" height="14.55" fill="rgb(31,31,31)"/>
<rect x="1109.96" y="448.01" width="20.13" height="14.55" fill="rgb(36,36,36)"/>
<rect x="1130.04" y="448.01" width="40.21" height="14.55" fill="rgb(42,42,42)"/>
<rect x="1170.20" y="448.01" width="100.45" height="14.55" fill="rgb(47,47,47)"/>
<rect x="1270.59" y="448.01" width="80.37" height="14.55" fill="rgb(52,52,52)"/>
<rect x="1350.91" y="448.01" width="20.13" height="14.55" fill="rgb(57,57,57)"/>
<rect x="1391.07" y="448.01" width="40.21" height="14.55" fill="rgb(57,57,57)"/>
<rect x="1431.23" y="448.01" width="60.29" height="14.55" fill="rgb(62,62,62)"/>
<rect x="1491.47" y="448.01" width="100.45" height="14.55" fill="rgb(68,68,68)"/>
<rect x="1591.87" y="448.01" width="20.13" height="14.55" fill="rgb(73,73,73)"/>
<rect x="1611.94" y="448.01" width="20.13" height="14.55" fill="rgb(83,83,83)"/>
<rect x="1632.02" y="448.01" width="20.13" height="14.55" fill="rgb(99,99,99)"/>
<rect x="1652.10" y="448.01" width="20.13" height="14.55" fill="rgb(109,109,109)"/>
<rect x="1672.18" y="448.01" width="20.13" height="14.55" fill="rgb(125,125,125)"/>
<rect x="1692.26" y="448.01" width="20.13" height="14.55" fill="rgb(146,146,146)"/>
<rect x="1712.34" y="448.01" width="20.13" height="14.55" fill="rgb(167,167,167)"/>
<rect x="1732.42" y="448.01" width="20.13" height="14.55" fill="rgb(187,187,187)"/>
<rect x="1752.50" y="448.01" width="20.13" height="14.55" fill="rgb(213,213,213)"/>
<rect x="1772.58" y="448.01" width="20.13" height="14.55" fill="rgb(234,234,234)"/>
<rect x="1792.66" y="448.01" width="10.09" height="14.55" fill="rgb(255,255,255)"/>
<rect x="1019.60" y="462.51" width="10.09" height="14.55" fill="rgb(0,0,0)"/>
<rect x="1029.64" y="462.51" width="20.13" height="14.55" fill="rgb(5,5,5)"/>
<rect x="1049.72" y="462.51" width="20.13" height="14.55" fill="rgb(16,16,16)"/>
<rect x="1069.80" y="462.51" width="20.13" height="14.55" fill="rgb(26,26,26)"/>
<rect x="1089.88" y="462.51" width="20.13" height="14.55" fill="rgb(31,31,31)"/>
<rect x="1109.96" y="462.51" width="20.13" height="14.55" fill="rgb(36,36,36)"/>
<rect x="1130.04" y="462.51" width="40.21" height="14.55" fill="rgb(42,42,42)"/>
<rect x="1170.20" y="462.51" width="80.37" height="14.55" fill="rgb(47,47,47)"/>
<rect x="1250.51" y="462.51" width="80.37" height="14.55" fill="rgb(52,52,52)"/>
<rect x="1330.83" y="462.51" width="80.37" height="14.55" fill="rgb(57,57,57)"/>
<rect x="1411.15" y="462.51" width="80.37" height="14.55" fill="rgb(62,62,62)"/>
<rect x="1491.47" y="462.51" width="100.45" height="14.55" fill="rgb(68,68,68)"/>
<rect x="1591.87" y="462.51" width="20.13" height="14.55" fill="rgb(73,73,73)"/>
<rect x="1611.94" y="462.51" width="20.13" height="14.55" fill="rgb(83,83,83)"/>
<rect x="1632.02" y="462.51" width="20.13" height="14.55" fill="rgb(99,99,99)"/>
<rect x="1652.10" y="462.51" width="20.13" height="14.55" fill="rgb(109,109,109)"/>
<rect x="1672.18" y="462.51" width="20.13" height="14.55" fill="rgb(125,125,125)"/>
<rect x="1692.26" y="462.51" width="20.13" height="14.55" fill="rgb(146,146,146)"/>
<rect x="1712.34" y="462.51" width="20.13" height="14.55" fill="rgb(167,167,167)"/>
<rect x="1732.42" y="462.51" width="20.13" height="14.55" fill="rgb(187,187,187)"/>
<rect x="1752.50" y="462.51" width="20.13" height="14.55" fill="rgb(213,213,213)"/>
<rect x="1772.58" y="462.51" width="20.13" height="14.55" fill="rgb(234,234,234)"/>
<rect x="1792.66" y="462.51" width="10.09" height="14.55" fill="rgb(255,255,255)"/>
<rect x="1019.60" y="477.02" width="10.09" height="14.55" fill="rgb(0,0,0)"/>
<rect x="1029.64" y="477.02" width="20.13" height="14.55" fill="rgb(5,5,5)"/>
<rect x="1049.72" y="477.02" width="20.13" height="14.55" fill="rgb(16,16,16)"/>
<rect x="1069.80" y="477.02" width="20.13" height="14.55" fill="rgb(26,26,26)"/>
<rect x="1089.88" y="477.02" width="20.13" height="14.55" fill="rgb(31,31,31)"/>
<rect x="1109.96" y="477.02" width="20.13" height="14.55" fill="rgb(36,36,36)"/>
<rect x="1130.04" y="477.02" width="40.21" height="14.55" fill="rgb(42,42,42)"/>
<rect x="1170.20" y="477.02" width="80.37" height="14.55" fill="rgb(47,47,47)"/>
<rect x="1250.51" y="477.02" width="80.37" height="14.55" fill="rgb(52,52,52)"/>
<rect x="1330.83" y="477.02" width="80.37" height="14.55" fill="rgb(57,57,57)"/>
<rect x="1411.15" y="477.02" width="80.37" height="14.55" fill="rgb(62,62,62)"/>
<rect x="1491.47" y="477.02" width="80.37" height="14.55" fill="rgb(68,68,68)"/>
<rect x="1571.79" y="477.02" width="40.21" height="14.55" fill="rgb(73,73,73)"/>
<rect x="1611.94" y="477.02" width="20.13" height="14.55" fill="rgb(83,83,83)"/>
<rect x="1632.02" y="477.02" width="20.13" height="14.55" fill="rgb(99,99,99)"/>
<rect x="1652.10" y="477.02" width="20.13" height="14.55" fill="rgb(109,109,109)"/>
<rect x="1672.18" y="477.02" width="20.13" height="14.55" fill="rgb(125,125,125)"/>
<rect x="1692.26" y="477.02" width="20.13" height="14.55" fill="rgb(146,146,146)"/>
<rect x="1712.34" y="477.02" width="20.13" height="14.55" fill="rgb(167,167,167)"/>
<rect x="1732.42" y="477.02" width="20.13" height="14.55" fill="rgb(187,187,187)"/>
<rect x="1752.50" y="477.02" width="20.13" height="14.55" fill="rgb(213,213,213)"/>
<rect x="1772.58" y="477.02" width="20.13" height="14.55" fill="rgb(234,234,234)"/>
<rect x="1792.66" y="477.02" width="10.09" height="14.55" fill="rgb(255,255,255)"/>
<rect x="1019.60" y="491.52" width="10.09" height="14.55" fill="rgb(0,0,0)"/>
<rect x="1029.64" y="491.52" width="20.13" height="14.55" fill="rgb(5,5,5)"/>
<rect x="1049.72" y="491.52" width="20.13" height="14.55" fill="rgb(16,16,16)"/>
<rect x="1069.80" y="491.52" width="20.13" height="14.55" fill="rgb(26,26,26)"/>
<rect x="1089.88" y="491.52" width="40.21" height="14.55" fill="rgb(36,36,36)"/>
<rect x="1130.04" y="491.52" width="40.21" height="14.55" fill="rgb(42,42,42)"/>
<rect x="1170.20" y="491.52" width="80.37" height="14.55" fill="rgb(47,47,47)"/>
<rect x="1250.51" y="491.52" width="80.37" height="14.55" fill="rgb(52,52,52)"/>
<rect x="1330.83" y="491.52" width="60.29" height="14.55" fill="rgb(57,57,57)"/>
<rect x="1391.07" y="491.52" width="80.37" height="14.55" fill="rgb(62,62,62)"/>
<rect x="1471.39" y="491.52" width="100.45" height="14.55" fill="rgb(68,68,68)"/>
<rect x="1571.79" y="491.52" width="20.13" height="14.55" fill="rgb(73,73,73)"/>
<rect x="1591.87" y="491.52" width="20.13" height="14.55" fill="rgb(78,78,78)"/>
<rect x="1611.94" y="491.52" width="20.13" height="14.55" fill="rgb(83,83,83)"/>
<rect x="1632.02" y="491.52" width="20.13" height="14.55" fill="rgb(99,99,99)"/>
<rect x="1652.10" y="491.52" width="20.13" height="14.55" fill="rgb(109,109,109)"/>
<rect x="1672.18" y="491.52" width="20.13" height="14.55" fill="rgb(125,125,125)"/>
<rect x="1692.26" y="491.52" width="20.13" height="14.55" fill="rgb(146,146,146)"/>
<rect x="1712.34" y="491.52" width="20.13" height="14.55" fill="rgb(167,167,167)"/>
<rect x="1732.42" y="491.52" width="20.13" height="14.55" fill="rgb(193,193,193)"/>
<rect x="1752.50" y="491.52" width="20.13" height="14.55" fill="rgb(213,213,213)"/>
<rect x="1772.58" y="491.52" width="20.13" height="14.55" fill="rgb(234,234,234)"/>
<rect x="1792.66" y="491.52" width="10.09" height="14.55" fill="rgb(255,255,255)"/>
<rect x="1019.60" y="506.02" width="10.09" height="14.55" fill="rgb(0,0,0)"/>
<rect x="1029.64" y="506.02" width="20.13" height="14.55" fill="rgb(5,5,5)"/>
<rect x="1049.72" y="506.02" width="20.13" height="14.55" fill="rgb(16,16,16)"/>
<rect x="1069.80" y="506.02" width="20.13" height="14.55" fill="rgb(26,26,26)"/>
<rect x="1089.88" y="506.02" width="40.21" height="14.55" fill="rgb(36,36,36)"/>
<rect x="1130.04" y="506.02" width="40.21" height="14.55" fill="rgb(42,42,42)"/>
<rect x="1170.20" y="506.02" width="80.37" height="14.55" fill="rgb(47,47,47)"/>
<rect x="1250.51" y="506.02" width="80.37" height="14.55" fill="rgb(52,52,52)"/>
<rect x="1330.83" y="506.02" width="60.29" height="14.55" fill="rgb(57,57,57)"/>
<rect x="1391.07" y="506.02" width="80.37" height="14.55" fill="rgb(62,62,62)"/>
<rect x="1471.39" y="506.02" width="100.45" height="14.55" fill="rgb(68,68,68)"/>
<rect x="1571.79" y="506.02" width="20.13" height="14.55" fill="rgb(73,73,73)"/>
<rect x="1591.87" y="506.02" width="20.13" height="14.55" fill="rgb(78,78,78)"/>
<rect x="1611.94" y="506.02" width="20.13" height="14.55" fill="rgb(83,83,83)"/>
<rect x="1632.02" y="506.02" width="20.13" height="14.55" fill="rgb(99,99,99)"/>
<rect x="1652.10" y="506.02" width="20.13" height="14.55" fill="rgb(109,109,109)"/>
<rect x="1672.18" y="506.02" width="20.13" height="14.55" fill="rgb(125,125,125)"/>
<rect x="1692.26" y="506.02" width="20.13" height="14.55" fill="rgb(146,146,146)"/>
<rect x="1712.34" y="506.02" width="20.13" height="14.55" fill="rgb(167,167,167)"/>
<rect x="1732.42" y="506.02" width="20.13" height="14.55" fill="rgb(193,193,193)"/>
<rect x="1752.50" y="506.02" width="20.13" height="14.55" fill="rgb(213,213,213)"/>
<rect x="1772.58" y="506.02" width="20.13" height="14.55" fill="rgb(234,234,234)"/>
<rect x="1792.66" y="506.02" width="10.09" height="14.55" fill="rgb(255,255,255)"/>
<rect x="1019.60" y="520.52" width="10.09" height="14.55" fill="rgb(0,0,0)"/>
<rect x="1029.64" y="520.52" width="20.13" height="14.55" fill="rgb(5,5,5)"/>
<rect x="1049.72" y="520.52" width="20.13" height="14.55" fill="rgb(16,16,16)"/>
<rect x="1069.80" y="520.52" width="20.13" height="14.55" fill="rgb(26,26,26)"/>
<rect x="1089.88" y="520.52" width="40.21" height="14.55" fill="rgb(36,36,36)"/>
<rect x="1130.04" y="520.52" width="40.21" height="14.55" fill="rgb(42,42,42)"/>
<rect x="1170.20" y="520.52" width="80.37" height="14.55" fill="rgb(47,47,47)"/>
<rect x="1250.51" y="520.52" width="60.29" height="14.55" fill="rgb(52,52,52)"/>
<rect x="1310.75" y="520.52" width="60.29" height="14.55" fill="rgb(57,57,57)"/>
<rect x="1370.99" y="520.52" width="80.37" height="14.55" fill="rgb(62,62,62)"/>
<rect x="1451.31" y="520.52" width="120.53" height="14.55" fill="rgb(68,68,68)"/>
<rect x="1571.79" y="520.52" width="20.13" height="14.55" fill="rgb(73,73,73)"/>
<rect x="1591.87" y="520.52" width="20.13" height="14.55" fill="rgb(78,78,78)"/>
<rect x="1611.94" y="520.52" width="20.13" height="14.55" fill="rgb(83,83,83)"/>
<rect x="1632.02" y="520.52" width="20.13" height="14.55" fill="rgb(99,99,99)"/>
<rect x="1652.10" y="520.52" width="20.13" height="14.55" fill="rgb(109,109,109)"/>
<rect x="1672.18" y="520.52" width="20.13" height="14.55" fill="rgb(125,125,125)"/>
<rect x="1692.26" y="520.52" width="20.13" height="14.55" fill="rgb(146,146,146)"/>
<rect x="1712.34" y="520.52" width="20.13" height="14.55" fill="rgb(167,167,167)"/>
<rect x="1732.42" y="520.52" width="20.13" height="14.55" fill="rgb(193,193,193)"/>
<rect x="1752.50" y="520.52" width="20.13" height="14.55" fill="rgb(213,213,213)"/>
<rect x="1772.58" y="520.52" width="20.13" height="14.55" fill="rgb(234,234,234)"/>
<rect x="1792.66" y="520.52" width="10.09" height="14.55" fill="rgb(255,255,255)"/>
<rect x="1019.60" y="535.03" width="10.09" height="14.55" fill="rgb(0,0,0)"/>
<rect x="1029.64" y="535.03" width="20.13" height="14.55" fill="rgb(5,5,5)"/>
<rect x="1049.72" y="535.03" width="20.13" height="14.55" fill="rgb(16,16,16)"/>
<rect x="1069.80" y="535.03" width="20.13" height="14.55" fill="rgb(26,26,26)"/>
<rect x="1089.88" y="535.03" width="40.21" height="14.55" fill="rgb(36,36,36)"/>
<rect x="1130.04" y="535.03" width="40.21" height="14.55" fill="rgb(42,42,42)"/>
<rect x="1170.20" y="535.03" width="80.37" height="14.55" fill="rgb(47,47,47)"/>
<rect x="1250.51" y="535.03" width="60.29" height="14.55" fill="rgb(52,52,52)"/>
<rect x="1310.75" y="535.03" width="60.29" height="14.55" fill="rgb(57,57,57)"/>
<rect x="1370.99" y="535.03" width="80.37" height="14.55" fill="rgb(62,62,62)"/>
<rect x="1451.31" y="535.03" width="120.53" height="14.55" fill="rgb(68,68,68)"/>
<rect x="1571.79" y="535.03" width="20.13" height="14.55" fill="rgb(73,73,73)"/>
<rect x="1591.87" y="535.03" width="20.13" height="14.55" fill="rgb(78,78,78)"/>
<rect x="1611.94" y="535.03" width="20.13" height="14.55" fill="rgb(83,83,83)"/>
<rect x="1632.02" y="535.03" width="20.13" height="14.55" fill="rgb(99,99,99)"/>
<rect x="1652.10" y="535.03" width="20.13" height="14.55" fill="rgb(109,109,109)"/>
<rect x="1672.18" y="535.03" width="20.13" height="14.55" fill="rgb(125,125,125)"/>
<rect x="1692.26" y="535.03" width="20.13" height="14.55" fill="rgb(146,146,146)"/>
<rect x="1712.34" y="535.03" width="20.13" height="14.55" fill="rgb(167,167,167)"/>
<rect x="1732.42" y="535.03" width="20.13" height="14.55" fill="rgb(193,193,193)"/>
<rect x="1752.50" y="535.03" width="20.13" height="14.55" fill="rgb(213,213,213)"/>
<rect x="1772.58" y="535.03" width="20.13" height="14.55" fill="rgb(239,239,239)"/>
<rect x="1792.66" y="535.03" width="10.09" height="14.55" fill="rgb(255,255,255)"/>
<rect x="1019.60" y="549.53" width="10.09" height="14.55" fill="rgb(0,0,0)"/>
<rect x="1029.64" y="549.53" width="20.13" height="14.55" fill="rgb(10,10,10)"/>
<rect x="1049.72" y="549.53" width="20.13" height="14.55" fill="rgb(21,21,21)"/>
<rect x="1069.80" y="549.53" width="20.13" height="14.55" fill="rgb(26,26,26)"/>
<rect x="1089.88" y="549.53" width="40.21" height="14.55" fill="rgb(36,36,36)"/>
<rect x="1130.04" y="549.53" width="20.13" height="14.55" fill="rgb(42,42,42)"/>
<rect x="1150.12" y="549.53" width="80.37" height="14.55" fill="rgb(47,47,47)"/>
<rect x="1230.43" y="549.53" width="80.37" height="14.55" fill="rgb(52,52,52)"/>
<rect x="1310.75" y="549.53" width="60.29" height="14.55" fill="rgb(57,57,57)"/>
<rect x="1370.99" y="549.53" width="20.13" height="14.55" fill="rgb(62,62,62)"/>
<rect x="1411.15" y="549.53" width="40.21" height="14.55" fill="rgb(62,62,62)"/>
<rect x="1451.31" y="549.53" width="100.45" height="14.55" fill="rgb(68,68,68)"/>
<rect x="1571.79" y="549.53" width="20.13" height="14.55" fill="rgb(73,73,73)"/>
<rect x="1591.87" y="549.53" width="20.13" height="14.55" fill="rgb(78,78,78)"/>
<rect x="1611.94" y="549.53" width="20.13" height="14.55" fill="rgb(83,83,83)"/>
<rect x="1632.02" y="549.53" width="20.13" height="14.55" fill="rgb(99,99,99)"/>
<rect x="1652.10" y="549.53" width="20.13" height="14.55" fill="rgb(109,109,109)"/>
<rect x="1672.18" y="549.53" width="20.13" height="14.55" fill="rgb(130,130,130)"/>
<rect x="1692.26" y="549.53" width="20.13" height="14.55" fill="rgb(146,146,146)"/>
<rect x="1712.34" y="549.53" width="20.13" height="14.55" fill="rgb(167,167,167)"/>
<rect x="1732.42" y="549.53" width="20.13" height="14.55" fill="rgb(193,193,193)"/>
<rect x="1752.50" y="549.53" width="20.13" height="14.55" fill="rgb(213,213,213)"/>
<rect x="1772.58" y="549.53" width="20.13" height="14.55" fill="rgb(239,239,239)"/>
<rect x="1792.66" y="549.53" width="10.09" height="14.55" fill="rgb(255,255,255)"/>
<rect x="1019.60" y="564.03" width="10.09" height="14.55" fill="rgb(0,0,0)"/>
<rect x="1029.64" y="564.03" width="20.13" height="14.55" fill="rgb(10,10,10)"/>
<rect x="1049.72" y="564.03" width="20.13" height="14.55" fill="rgb(21,21,21)"/>
<rect x="1069.80" y="564.03" width="20.13" height="14.55" fill="rgb(26,26,26)"/>
<rect x="1089.88" y="564.03" width="20.13" height="14.55" fill="rgb(36,36,36)"/>
<rect x="1109.96" y="564.03" width="40.21" height="14.55" fill="rgb(42,42,42)"/>
<rect x="1150.12" y="564.03" width="80.37" height="14.55" fill="rgb(47,47,47)"/>
<rect x="1230.43" y="564.03" width="60.29" height="14.55" fill="rgb(52,52,52)"/>
<rect x="1290.67" y="564.03" width="20.13" height="14.55" fill="rgb(57,57,57)"/>
<rect x="1411.15" y="564.03" width="20.13" height="14.55" fill="rgb(62,62,62)"/>
<rect x="1431.23" y="564.03" width="140.61" height="14.55" fill="rgb(68,68,68)"/>
<rect x="1571.79" y="564.03" width="20.13" height="14.55" fill="rgb(73,73,73)"/>
<rect x="1591.87" y="564.03" width="20.13" height="14.55" fill="rgb(78,78,78)"/>
<rect x="1632.02" y="564.03" width="20.13" height="14.55" fill="rgb(99,99,99)"/>
<rect x="1652.10" y="564.03" width="20.13" height="14.55" fill="rgb(114,114,114)"/>
<rect x="1672.18" y="564.03" width="20.13" height="14.55" fill="rgb(130,130,130)"/>
<rect x="1692.26" y="564.03" width="20.13" height="14.55" fill="rgb(146,146,146)"/>
<rect x="1712.34" y="564.03" width="20.13" height="14.55" fill="rgb(167,167,167)"/>
<rect x="1732.42" y="564.03" width="20.13" height="14.55" fill="rgb(193,193,193)"/>
<rect x="1752.50" y="564.03" width="20.13" height="14.55" fill="rgb(213,213,213)"/>
<rect x="1772.58" y="564.03" width="20.13" height="14.55" fill="rgb(239,239,239)"/>
<rect x="1792.66" y="564.03" width="10.09" height="14.55" fill="rgb(255,255,255)"/>
<rect x="1019.60" y="578.53" width="10.09" height="14.55" fill="rgb(0,0,0)"/>
<rect x="1029.64" y="578.53" width="20.13" height="14.55" fill="rgb(10,10,10)"/>
<rect x="1049.72" y="578.53" width="20.13" height="14.55" fill="rgb(21,21,21)"/>
<rect x="1069.80" y="578.53" width="20.13" height="14.55" fill="rgb(31,31,31)"/>
<rect x="1089.88" y="578.53" width="20.13" height="14.55" fill="rgb(36,36,36)"/>
<rect x="1109.96" y="578.53" width="40.21" height="14.55" fill="rgb(42,42,42)"/>
<rect x="1150.12" y="578.53" width="80.37" height="14.55" fill="rgb(47,47,47)"/>
<rect x="1230.43" y="578.53" width="60.29" height="14.55" fill="rgb(52,52,52)"/>
<rect x="1290.67" y="578.53" width="20.13" height="14.55" fill="rgb(57,57,57)"/>
<rect x="1431.23" y="578.53" width="120.53" height="14.55" fill="rgb(68,68,68)"/>
<rect x="1551.71" y="578.53" width="40.21" height="14.55" fill="rgb(73,73,73)"/>
<rect x="1591.87" y="578.53" width="20.13" height="14.55" fill="rgb(78,78,78)"/>
<rect x="1632.02" y="578.53" width="20.13" height="14.55" fill="rgb(99,99,99)"/>
<rect x="1652.10" y="578.53" width="20.13" height="14.55" fill="rgb(114,114,114)"/>
<rect x="1672.18" y="578.53" width="20.13" height="14.55" fill="rgb(130,130,130)"/>
<rect x="1692.26" y="578.53" width="20.13" height="14.55" fill="rgb(146,146,146)"/>
<rect x="1712.34" y="578.53" width="20.13" height="14.55" fill="rgb(167,167,167)"/>
<rect x="1732.42" y="578.53" width="20.13" height="14.55" fill="rgb(193,193,193)"/>
<rect x="1752.50" y="578.53" width="20.13" height="14.55" fill="rgb(213,213,213)"/>
<rect x="1772.58" y="578.53" width="20.13" height="14.55" fill="rgb(239,239,239)"/>
<rect x="1792.66" y="578.53" width="10.09" height="14.55" fill="rgb(255,255,255)"/>
<rect x="1019.60" y="593.04" width="10.09" height="14.55" fill="rgb(0,0,0)"/>
<rect x="1029.64" y="593.04" width="20.13" height="14.55" fill="rgb(10,10,10)"/>
<rect x="1049.72" y="593.04" width="20.13" height="14.55" fill="rgb(21,21,21)"/>
<rect x="1069.80" y="593.04" width="20.13" height="14.55" fill="rgb(31,31,31)"/>
<rect x="1089.88" y="593.04" width="20.13" height="14.55" fill="rgb(36,36,36)"/>
<rect x="1109.96" y="593.04" width="40.21" height="14.55" fill="rgb(42,42,42)"/>
<rect x="1150.12" y="593.04" width="80.37" height="14.55" fill="rgb(47,47,47)"/>
<rect x="1230.43" y="593.04" width="60.29" height="14.55" fill="rgb(52,52,52)"/>
<rect x="1290.67" y="593.04" width="40.21" height="14.55" fill="rgb(57,57,57)"/>
<rect x="1431.23" y="593.04" width="120.53" height="14.55" fill="rgb(68,68,68)"/>
<rect x="1551.71" y="593.04" width="40.21" height="14.55" fill="rgb(73,73,73)"/>
<rect x="1591.87" y="593.04" width="20.13" height="14.55" fill="rgb(78,78,78)"/>
<rect x="1611.94" y="593.04" width="20.13" height="14.55" fill="rgb(88,88,88)"/>
<rect x="1632.02" y="593.04" width="20.13" height="14.55" fill="rgb(99,99,99)"/>
<rect x="1652.10" y="593.04" width="20.13" height="14.55" fill="rgb(114,114,114)"/>
<rect x="1672.18" y="593.04" width="20.13" height="14.55" fill="rgb(130,130,130)"/>
<rect x="1692.26" y="593.04" width="20.13" height="14.55" fill="rgb(146,146,146)"/>
<rect x="1712.34" y="593.04" width="20.13" height="14.55" fill="rgb(172,172,172)"/>
<rect x="1732.42" y="593.04" width="20.13" height="14.55" fill="rgb(193,193,193)"/>
<rect x="1752.50" y="593.04" width="20.13" height="14.55" fill="rgb(213,213,213)"/>
<rect x="1772.58" y="593.04" width="20.13" height="14.55" fill="rgb(239,239,239)"/>
<rect x="1792.66" y="593.04" width="10.09" height="14.55" fill="rgb(255,255,255)"/>
<rect x="1019.60" y="607.54" width="10.09" height="14.55" fill="rgb(0,0,0)"/>
<rect x="1029.64" y="607.54" width="20.13" height="14.55" fill="rgb(10,10,10)"/>
<rect x="1049.72" y="607.54" width="20.13" height="14.55" fill="rgb(21,21,21)"/>
<rect x="1069.80" y="607.54" width="20.13" height="14.55" fill="rgb(31,31,31)"/>
<rect x="1089.88" y="607.54" width="20.13" height="14.55" fill="rgb(36,36,36)"/>
<rect x="1109.96" y="607.54" width="40.21" height="14.55" fill="rgb(42,42,42)"/>
<rect x="1150.12" y="607.54" width="60.29" height="14.55" fill="rgb(47,47,47)"/>
<rect x="1210.36" y="607.54" width="80.37" height="14.55" fill="rgb(52,52,52)"/>
<rect x="1290.67" y="607.54" width="40.21" height="14.55" fill="rgb(57,57,57)"/>
<rect x="1330.83" y="607.54" width="40.21" height="14.55" fill="rgb(62,62,62)"/>
<rect x="1411.15" y="607.54" width="120.53" height="14.55" fill="rgb(68,68,68)"/>
<rect x="1531.63" y="607.54" width="60.29" height="14.55" fill="rgb(73,73,73)"/>
<rect x="1591.87" y="607.54" width="20.13" height="14.55" fill="rgb(78,78,78)"/>
<rect x="1611.94" y="607.54" width="20.13" height="14.55" fill="rgb(88,88,88)"/>
<rect x="1632.02" y="607.54" width="20.13" height="14.55" fill="rgb(99,99,99)"/>
<rect x="1652.10" y="607.54" width="20.13" height="14.55" fill="rgb(114,114,114)"/>
<rect x="1672.18" y="607.54" width="20.13" height="14.55" fill="rgb(130,130,130)"/>
<rect x="1692.26" y="607.54" width="20.13" height="14.55" fill="rgb(146,146,146)"/>
<rect x="1712.34" y="607.54" width="20.13" height="14.55" fill="rgb(172,172,172)"/>
<rect x="1732.42" y="607.54" width="20.13" height="14.55" fill="rgb(193,193,193)"/>
<rect x="1752.50" y="607.54" width="20.13" height="14.55" fill="rgb(219,219,219)"/>
<rect x="1772.58" y="607.54" width="20.13" height="14.55" fill="rgb(239,239,239)"/>
<rect x="1792.66" y="607.54" width="10.09" height="14.55" fill="rgb(255,255,255)"/>
<rect x="1019.60" y="622.04" width="10.09" height="14.55" fill="rgb(0,0,0)"/>
<rect x="1029.64" y="622.04" width="20.13" height="14.55" fill="rgb(10,10,10)"/>
<rect x="1049.72" y="622.04" width="20.13" height="14.55" fill="rgb(21,21,21)"/>
<rect x="1069.80" y="622.04" width="20.13" height="14.55" fill="rgb(31,31,31)"/>
<rect x="1089.88" y="622.04" width="20.13" height="14.55" fill="rgb(36,36,36)"/>
<rect x="1109.96" y="622.04" width="40.21" height="14.55" fill="rgb(42,42,42)"/>
<rect x="1150.12" y="622.04" width="60.29" height="14.55" fill="rgb(47,47,47)"/>
<rect x="1210.36" y="622.04" width="60.29" height="14.55" fill="rgb(52,52,52)"/>
<rect x="1270.59" y="622.04" width="60.29" height="14.55" fill="rgb(57,57,57)"/>
<rect x="1330.83" y="622.04" width="60.29" height="14.55" fill="rgb(62,62,62)"/>
<rect x="1391.07" y="622.04" width="140.61" height="14.55" fill="rgb(68,68,68)"/>
<rect x="1531.63" y="622.04" width="60.29" height="14.55" fill="rgb(73,73,73)"/>
<rect x="1591.87" y="622.04" width="20.13" height="14.55" fill="rgb(78,78,78)"/>
<rect x="1611.94" y="622.04" width="20.13" height="14.55" fill="rgb(88,88,88)"/>
<rect x="1632.02" y="622.04" width="20.13" height="14.55" fill="rgb(99,99,99)"/>
<rect x="1652.10" y="622.04" width="20.13" height="14.55" fill="rgb(114,114,114)"/>
<rect x="1672.18" y="622.04" width="20.13" height="14.55" fill="rgb(130,130,130)"/>
<rect x="1692.26" y="622.04" width="20.13" height="14.55" fill="rgb(146,146,146)"/>
<rect x="1712.34" y="622.04" width="20.13" height="14.55" fill="rgb(172,172,172)"/>
<rect x="1732.42" y="622.04" width="20.13" height="14.55" fill="rgb(193,193,193)"/>
<rect x="1752.50" y="622.04" width="20.13" height="14.55" fill="rgb(219,219,219)"/>
<rect x="1772.58" y="622.04" width="20.13" height="14.55" fill="rgb(239,239,239)"/>
<rect x="1792.66" y="622.04" width="10.09" height="14.55" fill="rgb(255,255,255)"/>
<rect x="1019.60" y="636.54" width="10.09" height="14.55" fill="rgb(0,0,0)"/>
<rect x="1029.64" y="636.54" width="20.13" height="14.55" fill="rgb(10,10,10)"/>
<rect x="1049.72" y="636.54" width="20.13" height="14.55" fill="rgb(21,21,21)"/>
<rect x="1069.80" y="636.54" width="20.13" height="14.55" fill="rgb(31,31,31)"/>
<rect x="1089.88" y="636.54" width="20.13" height="14.55" fill="rgb(36,36,36)"/>
<rect x="1109.96" y="636.54" width="40.21" height="14.55" fill="rgb(42,42,42)"/>
<rect x="1150.12" y="636.54" width="60.29" height="14.55" fill="rgb(47,47,47)"/>
<rect x="1210.36" y="636.54" width="60.29" height="14.55" fill="rgb(52,52,52)"/>
<rect x="1270.59" y="636.54" width="60.29" height="14.55" fill="rgb(57,57,57)"/>
<rect x="1330.83" y="636.54" width="60.29" height="14.55" fill="rgb(62,62,62)"/>
<rect x="1391.07" y="636.54" width="120.53" height="14.55" fill="rgb(68,68,68)"/>
<rect x="1511.55" y="636.54" width="80.37" height="14.55" fill="rgb(73,73,73)"/>
<rect x="1591.87" y="636.54" width="20.13" height="14.55" fill="rgb(78,78,78)"/>
<rect x="1611.94" y="636.54" width="20.13" height="14.55" fill="rgb(88,88,88)"/>
<rect x="1632.02" y="636.54" width="20.13" height="14.55" fill="rgb(99,99,99)"/>
<rect x="1652.10" y="636.54" width="20.13" height="14.55" fill="rgb(114,114,114)"/>
<rect x="1672.18" y="636.54" width="20.13" height="14.55" fill="rgb(130,130,130)"/>
<rect x="1692.26" y="636.54" width="20.13" height="14.55" fill="rgb(146,146,146)"/>
<rect x="1712.34" y="636.54" width="20.13" height="14.55" fill="rgb(172,172,172)"/>
<rect x="1732.42" y="636.54" width="20.13" height="14.55" fill="rgb(193,193,193)"/>
<rect x="1752.50" y="636.54" width="20.13" height="14.55" fill="rgb(219,219,219)"/>
<rect x="1772.58" y="636.54" width="20.13" height="14.55" fill="rgb(239,239,239)"/>
<rect x="1792.66" y="636.54" width="10.09" height="14.55" fill="rgb(255,255,255)"/>
<rect x="1019.60" y="651.05" width="10.09" height="14.55" fill="rgb(0,0,0)"/>
<rect x="1029.64" y="651.05" width="20.13" height="14.55" fill="rgb(10,10,10)"/>
<rect x="1049.72" y="651.05" width="20.13" height="14.55" fill="rgb(21,21,21)"/>
<rect x="1069.80" y="651.05" width="20.13" height="14.55" fill="rgb(31,31,31)"/>
<rect x="1089.88" y="651.05" width="20.13" height="14.55" fill="rgb(36,36,36)"/>
<rect x="1109.96" y="651.05" width="20.13" height="14.55" fill="rgb(42,42,42)"/>
<rect x="1130.04" y="651.05" width="80.37" height="14.55" fill="rgb(47,47,47)"/>
<rect x="1210.36" y="651.05" width="60.29" height="14.55" fill="rgb(52,52,52)"/>
<rect x="1270.59" y="651.05" width="40.21" height="14.55" fill="rgb(57,57,57)"/>
<rect x="1310.75" y="651.05" width="80.37" height="14.55" fill="rgb(62,62,62)"/>
<rect x="1391.07" y="651.05" width="120.53" height="14.55" fill="rgb(68,68,68)"/>
<rect x="1511.55" y="651.05" width="80.37" height="14.55" fill="rgb(73,73,73)"/>
<rect x="1591.87" y="651.05" width="20.13" height="14.55" fill="rgb(83,83,83)"/>
<rect x="1611.94" y="651.05" width="20.13" height="14.55" fill="rgb(88,88,88)"/>
<rect x="1632.02" y="651.05" width="20.13" height="14.55" fill="rgb(104,104,104)"/>
<rect x="1652.10" y="651.05" width="20.13" height="14.55" fill="rgb(114,114,114)"/>
<rect x="1672.18" y="651.05" width="20.13" height="14.55" fill="rgb(130,130,130)"/>
<rect x="1692.26" y="651.05" width="20.13" height="14.55" fill="rgb(146,146,146)"/>
<rect x="1712.34" y="651.05" width="20.13" height="14.55" fill="rgb(172,172,172)"/>
<rect x="1732.42" y="651.05" width="20.13" height="14.55" fill="rgb(193,193,193)"/>
<rect x="1752.50" y="651.05" width="20.13" height="14.55" fill="rgb(219,219,219)"/>
<rect x="1772.58" y="651.05" width="20.13" height="14.55" fill="rgb(239,239,239)"/>
<rect x="1792.66" y="651.05" width="10.09" height="14.55" fill="rgb(255,255,255)"/>
<rect x="1019.60" y="665.55" width="10.09" height="7.30" fill="rgb(0,0,0)"/>
<rect x="1029.64" y="665.55" width="20.13" height="7.30" fill="rgb(10,10,10)"/>
<rect x="1049.72" y="665.55" width="20.13" height="7.30" fill="rgb(21,21,21)"/>
<rect x="1069.80" y="665.55" width="20.13" height="7.30" fill="rgb(31,31,31)"/>
<rect x="1089.88" y="665.55" width="20.13" height="7.30" fill="rgb(36,36,36)"/>
<rect x="1109.96" y="665.55" width="20.13" height="7.30" fill="rgb(42,42,42)"/>
<rect x="1130.04" y="665.55" width="80.37" height="7.30" fill="rgb(47,47,47)"/>
<rect x="1210.36" y="665.55" width="60.29" height="7.30" fill="rgb(52,52,52)"/>
<rect x="1270.59" y="665.55" width="40.21" height="7.30" fill="rgb(57,57,57)"/>
<rect x="1310.75" y="665.55" width="80.37" height="7.30" fill="rgb(62,62,62)"/>
<rect x="1391.07" y="665.55" width="120.53" height="7.30" fill="rgb(68,68,68)"/>
<rect x="1511.55" y="665.55" width="80.37" height="7.30" fill="rgb(73,73,73)"/>
<rect x="1591.87" y="665.55" width="20.13" height="7.30" fill="rgb(83,83,83)"/>
<rect x="1611.94" y="665.55" width="20.13" height="7.30" fill="rgb(88,88,88)"/>
<rect x="1632.02" y="665.55" width="20.13" height="7.30" fill="rgb(104,104,104)"/>
<rect x="1652.10" y="665.55" width="20.13" height="7.30" fill="rgb(114,114,114)"/>
<rect x="1672.18" y="665.55" width="20.13" height="7.30" fill="rgb(130,130,130)"/>
<rect x="1692.26" y="665.55" width="20.13" height="7.30" fill="rgb(151,151,151)"/>
<rect x="1712.34" y="665.55" width="20.13" height="7.30" fill="rgb(172,172,172)"/>
<rect x="1732.42" y="665.55" width="20.13" height="7.30" fill="rgb(193,193,193)"/>
<rect x="1752.50" y="665.55" width="20.13" height="7.30" fill="rgb(219,219,219)"/>
<rect x="1772.58" y="665.55" width="20.13" height="7.30" fill="rgb(239,239,239)"/>
<rect x="1792.66" y="665.55" width="10.09" height="7.30" fill="rgb(255,255,255)"/>
</g>
<g id="seams" stroke="#fff" fill="none">
<line x1="1019.6" y1="129.0" x2="1130.0" y2="129.0" stroke-width="1.2" stroke-opacity="0.13"/>
<line x1="1310.8" y1="129.0" x2="1371.0" y2="129.0" stroke-width="1.2" stroke-opacity="0.13"/>
<line x1="1391.1" y1="129.0" x2="1531.6" y2="129.0" stroke-width="1.2" stroke-opacity="0.13"/>
<line x1="1019.6" y1="158.0" x2="1110.0" y2="158.0" stroke-width="1.2" stroke-opacity="0.13"/>
<line x1="1270.6" y1="158.0" x2="1411.2" y2="158.0" stroke-width="1.2" stroke-opacity="0.13"/>
<line x1="1732.4" y1="158.0" x2="1802.7" y2="158.0" stroke-width="1.2" stroke-opacity="0.13"/>
<line x1="1190.3" y1="216.0" x2="1411.2" y2="216.0" stroke-width="1.2" stroke-opacity="0.13"/>
<line x1="1471.4" y1="216.0" x2="1632.0" y2="216.0" stroke-width="1.2" stroke-opacity="0.13"/>
<line x1="1732.4" y1="216.0" x2="1802.7" y2="216.0" stroke-width="1.2" stroke-opacity="0.13"/>
<line x1="1019.6" y1="274.0" x2="1130.0" y2="274.0" stroke-width="1.2" stroke-opacity="0.13"/>
<line x1="1150.1" y1="274.0" x2="1611.9" y2="274.0" stroke-width="1.2" stroke-opacity="0.13"/>
<line x1="1632.0" y1="274.0" x2="1802.7" y2="274.0" stroke-width="1.2" stroke-opacity="0.13"/>
<line x1="1019.6" y1="332.0" x2="1371.0" y2="332.0" stroke-width="1.2" stroke-opacity="0.13"/>
<line x1="1391.1" y1="332.0" x2="1802.7" y2="332.0" stroke-width="1.2" stroke-opacity="0.13"/>
<line x1="1019.6" y1="390.0" x2="1802.7" y2="390.0" stroke-width="1.2" stroke-opacity="0.13"/>
<line x1="1019.6" y1="448.0" x2="1350.9" y2="448.0" stroke-width="1.2" stroke-opacity="0.13"/>
<line x1="1391.1" y1="448.0" x2="1802.7" y2="448.0" stroke-width="1.2" stroke-opacity="0.13"/>
<line x1="1019.6" y1="506.0" x2="1802.7" y2="506.0" stroke-width="1.2" stroke-opacity="0.13"/>
<line x1="1019.6" y1="549.5" x2="1391.1" y2="549.5" stroke-width="1.2" stroke-opacity="0.13"/>
<line x1="1411.2" y1="549.5" x2="1551.7" y2="549.5" stroke-width="1.2" stroke-opacity="0.13"/>
<line x1="1571.8" y1="549.5" x2="1802.7" y2="549.5" stroke-width="1.2" stroke-opacity="0.13"/>
<line x1="1019.6" y1="607.5" x2="1330.8" y2="607.5" stroke-width="1.2" stroke-opacity="0.13"/>
<line x1="1431.2" y1="607.5" x2="1802.7" y2="607.5" stroke-width="1.2" stroke-opacity="0.13"/>
<line x1="1019.6" y1="665.5" x2="1802.7" y2="665.5" stroke-width="1.2" stroke-opacity="0.13"/>
<line x1="1230.4" y1="187.0" x2="1411.2" y2="187.0" stroke-width="1.2" stroke-opacity="0.09"/>
<line x1="1511.5" y1="187.0" x2="1591.9" y2="187.0" stroke-width="1.2" stroke-opacity="0.09"/>
<line x1="1712.3" y1="187.0" x2="1802.7" y2="187.0" stroke-width="1.2" stroke-opacity="0.09"/>
<line x1="1019.6" y1="245.0" x2="1110.0" y2="245.0" stroke-width="1.2" stroke-opacity="0.09"/>
<line x1="1170.2" y1="245.0" x2="1802.7" y2="245.0" stroke-width="1.2" stroke-opacity="0.09"/>
<line x1="1019.6" y1="303.0" x2="1130.0" y2="303.0" stroke-width="1.2" stroke-opacity="0.09"/>
<line x1="1150.1" y1="303.0" x2="1371.0" y2="303.0" stroke-width="1.2" stroke-opacity="0.09"/>
<line x1="1391.1" y1="303.0" x2="1802.7" y2="303.0" stroke-width="1.2" stroke-opacity="0.09"/>
<line x1="1019.6" y1="361.0" x2="1802.7" y2="361.0" stroke-width="1.2" stroke-opacity="0.09"/>
<line x1="1110.0" y1="107.2" x2="1110.0" y2="158.0" stroke-width="1.2" stroke-opacity="0.17"/>
<line x1="1110.0" y1="245.0" x2="1110.0" y2="672.8" stroke-width="1.2" stroke-opacity="0.17"/>
<line x1="1150.1" y1="303.0" x2="1150.1" y2="672.8" stroke-width="1.2" stroke-opacity="0.17"/>
<line x1="1270.6" y1="172.5" x2="1270.6" y2="672.8" stroke-width="1.2" stroke-opacity="0.17"/>
<line x1="1290.7" y1="143.5" x2="1290.7" y2="672.8" stroke-width="1.2" stroke-opacity="0.17"/>
<line x1="1431.2" y1="107.2" x2="1431.2" y2="158.0" stroke-width="1.2" stroke-opacity="0.17"/>
<line x1="1431.2" y1="230.5" x2="1431.2" y2="578.5" stroke-width="1.2" stroke-opacity="0.17"/>
<line x1="1431.2" y1="607.5" x2="1431.2" y2="672.8" stroke-width="1.2" stroke-opacity="0.17"/>
<line x1="1551.7" y1="172.5" x2="1551.7" y2="549.5" stroke-width="1.2" stroke-opacity="0.17"/>
<line x1="1551.7" y1="564.0" x2="1551.7" y2="672.8" stroke-width="1.2" stroke-opacity="0.17"/>
<line x1="1591.9" y1="187.0" x2="1591.9" y2="672.8" stroke-width="1.2" stroke-opacity="0.17"/>
<line x1="1089.9" y1="107.2" x2="1089.9" y2="172.5" stroke-width="1.2" stroke-opacity="0.08"/>
<line x1="1089.9" y1="230.5" x2="1089.9" y2="672.8" stroke-width="1.2" stroke-opacity="0.08"/>
<line x1="1130.0" y1="303.0" x2="1130.0" y2="672.8" stroke-width="1.2" stroke-opacity="0.08"/>
<line x1="1411.2" y1="107.2" x2="1411.2" y2="158.0" stroke-width="1.2" stroke-opacity="0.08"/>
<line x1="1411.2" y1="230.5" x2="1411.2" y2="549.5" stroke-width="1.2" stroke-opacity="0.08"/>
<line x1="1411.2" y1="622.0" x2="1411.2" y2="672.8" stroke-width="1.2" stroke-opacity="0.08"/>
<line x1="1471.4" y1="107.2" x2="1471.4" y2="158.0" stroke-width="1.2" stroke-opacity="0.08"/>
<line x1="1471.4" y1="216.0" x2="1471.4" y2="672.8" stroke-width="1.2" stroke-opacity="0.08"/>
<line x1="1632.0" y1="230.5" x2="1632.0" y2="259.5" stroke-width="1.2" stroke-opacity="0.08"/>
<line x1="1632.0" y1="274.0" x2="1632.0" y2="564.0" stroke-width="1.2" stroke-opacity="0.08"/>
<line x1="1632.0" y1="593.0" x2="1632.0" y2="672.8" stroke-width="1.2" stroke-opacity="0.08"/>
</g>
<g id="pts" fill="#0a0a0a" fill-opacity="0.85">
<circle cx="1649.6" cy="332.6" r="1.35"/>
<circle cx="1649.6" cy="382.7" r="1.35"/>
<circle cx="1704.5" cy="266.3" r="1.35"/>
<circle cx="1704.5" cy="280.8" r="1.35"/>
<circle cx="1796.4" cy="263.8" r="1.35"/>
<circle cx="1796.4" cy="335.6" r="1.35"/>
<circle cx="1796.4" cy="367.2" r="1.35"/>
<circle cx="1796.4" cy="372.7" r="1.35"/>
<circle cx="1704.5" cy="400.4" r="1.35"/>
<circle cx="1704.5" cy="412.9" r="1.35"/>
<circle cx="1704.5" cy="505.7" r="1.35"/>
<circle cx="1649.6" cy="509.5" r="1.35"/>
<circle cx="1796.4" cy="478.4" r="1.35"/>
<circle cx="1796.4" cy="487.1" r="1.35"/>
<circle cx="1704.5" cy="569.2" r="1.35"/>
<circle cx="1704.5" cy="627.8" r="1.35"/>
<circle cx="1649.6" cy="654.8" r="1.35"/>
<circle cx="1649.6" cy="665.4" r="1.35"/>
<circle cx="1704.5" cy="671.5" r="1.35"/>
<circle cx="1796.4" cy="667.0" r="1.35"/>
<circle cx="1796.4" cy="187.0" r="1.35"/>
<circle cx="1342.6" cy="173.1" r="1.35"/>
<circle cx="1264.6" cy="226.6" r="1.35"/>
<circle cx="1224.7" cy="270.9" r="1.35"/>
<circle cx="1342.6" cy="260.0" r="1.35"/>
<circle cx="1236.7" cy="321.1" r="1.35"/>
<circle cx="1224.7" cy="327.1" r="1.35"/>
<circle cx="1236.7" cy="381.4" r="1.35"/>
<circle cx="1342.6" cy="377.8" r="1.35"/>
<circle cx="1264.6" cy="389.0" r="1.35"/>
<circle cx="1224.7" cy="408.0" r="1.35"/>
<circle cx="1264.6" cy="418.6" r="1.35"/>
<circle cx="1264.6" cy="441.1" r="1.35"/>
<circle cx="1264.6" cy="456.3" r="1.35"/>
<circle cx="1264.6" cy="460.9" r="1.35"/>
<circle cx="1224.7" cy="459.8" r="1.35"/>
<circle cx="1224.7" cy="478.2" r="1.35"/>
<circle cx="1236.7" cy="499.4" r="1.35"/>
<circle cx="1342.6" cy="508.6" r="1.35"/>
<circle cx="1236.7" cy="517.3" r="1.35"/>
<circle cx="1236.7" cy="525.3" r="1.35"/>
<circle cx="1264.6" cy="528.6" r="1.35"/>
<circle cx="1224.7" cy="577.2" r="1.35"/>
<circle cx="1264.6" cy="625.8" r="1.35"/>
<circle cx="1236.7" cy="660.5" r="1.35"/>
<circle cx="1236.7" cy="664.9" r="1.35"/>
<circle cx="1224.7" cy="668.3" r="1.35"/>
<circle cx="1342.6" cy="665.6" r="1.35"/>
<circle cx="1264.6" cy="671.5" r="1.35"/>
<circle cx="1467.7" cy="276.4" r="1.35"/>
<circle cx="1467.7" cy="315.2" r="1.35"/>
<circle cx="1553.4" cy="325.2" r="1.35"/>
<circle cx="1553.4" cy="333.4" r="1.35"/>
<circle cx="1483.0" cy="348.7" r="1.35"/>
<circle cx="1483.0" cy="369.1" r="1.35"/>
<circle cx="1590.0" cy="341.8" r="1.35"/>
<circle cx="1590.0" cy="357.9" r="1.35"/>
<circle cx="1590.0" cy="386.5" r="1.35"/>
<circle cx="1483.0" cy="398.2" r="1.35"/>
<circle cx="1553.4" cy="403.3" r="1.35"/>
<circle cx="1590.0" cy="415.9" r="1.35"/>
<circle cx="1467.7" cy="448.6" r="1.35"/>
<circle cx="1483.0" cy="447.8" r="1.35"/>
<circle cx="1590.0" cy="450.8" r="1.35"/>
<circle cx="1483.0" cy="463.1" r="1.35"/>
<circle cx="1553.4" cy="462.9" r="1.35"/>
<circle cx="1467.7" cy="485.8" r="1.35"/>
<circle cx="1467.7" cy="496.6" r="1.35"/>
<circle cx="1590.0" cy="502.1" r="1.35"/>
<circle cx="1483.0" cy="543.2" r="1.35"/>
<circle cx="1553.4" cy="616.0" r="1.35"/>
<circle cx="1483.0" cy="645.8" r="1.35"/>
<circle cx="1467.7" cy="651.5" r="1.35"/>
<circle cx="1590.0" cy="655.0" r="1.35"/>
<circle cx="1113.1" cy="355.0" r="1.35"/>
<circle cx="1122.6" cy="378.0" r="1.35"/>
<circle cx="1113.1" cy="386.5" r="1.35"/>
<circle cx="1113.1" cy="392.7" r="1.35"/>
<circle cx="1122.6" cy="397.8" r="1.35"/>
<circle cx="1113.1" cy="420.9" r="1.35"/>
<circle cx="1053.4" cy="414.4" r="1.35"/>
<circle cx="1113.1" cy="468.7" r="1.35"/>
<circle cx="1122.6" cy="476.3" r="1.35"/>
<circle cx="1113.1" cy="488.3" r="1.35"/>
<circle cx="1113.1" cy="498.0" r="1.35"/>
<circle cx="1113.1" cy="508.4" r="1.35"/>
<circle cx="1053.4" cy="474.7" r="1.35"/>
<circle cx="1113.1" cy="543.3" r="1.35"/>
<circle cx="1113.1" cy="563.8" r="1.35"/>
<circle cx="1122.5" cy="585.9" r="1.35"/>
<circle cx="1113.1" cy="636.8" r="1.35"/>
<circle cx="1113.1" cy="655.3" r="1.35"/>
<circle cx="1122.5" cy="658.2" r="1.35"/>
<circle cx="1054.0" cy="649.2" r="1.35"/>
<circle cx="1225.0" cy="577.4" r="1.35"/>
<circle cx="1225.0" cy="668.7" r="1.35"/>
</g>
<g id="contours" fill="none" stroke="#45a826" stroke-width="1.5" stroke-linecap="butt">
<path d="M1046.9 672.5C1048.3 650.1 1052.3 585.1 1055.2 538.0C1058.1 490.9 1061.7 431.0 1064.5 390.0C1067.3 349.0 1070.8 308.3 1072.0 292.0" stroke-opacity="1.00"/>
<path d="M1075.0 238.0C1075.1 235.4 1075.5 225.2 1075.6 222.7" stroke-opacity="1.00"/>
<path d="M1080.6 152.7C1080.6 151.6 1080.8 147.4 1080.8 146.4" stroke-opacity="0.90"/>
<path d="M1079.6 166.5C1079.6 165.4 1079.8 161.2 1079.8 160.2" stroke-opacity="1.00"/>
<path d="M1234.6 672.5C1236.0 667.9 1241.6 649.6 1243.0 645.0" stroke-opacity="1.00"/>
<path d="M1258.0 594.0C1261.5 584.2 1272.0 557.0 1279.0 535.0C1286.0 513.0 1292.9 486.2 1300.0 462.0C1307.1 437.8 1315.2 414.2 1321.5 390.0C1327.8 365.8 1332.7 341.2 1338.0 317.0C1343.3 292.8 1349.0 266.7 1353.3 245.0C1357.6 223.3 1360.6 206.2 1364.0 187.0C1367.4 167.8 1372.1 139.1 1373.7 129.5" stroke-opacity="1.00"/>
<path d="M1634.4 231.5C1634.1 238.7 1633.4 257.8 1632.7 274.5C1632.0 291.2 1630.8 312.8 1630.0 332.0C1629.2 351.2 1628.9 368.7 1628.0 390.0C1627.1 411.3 1625.2 441.2 1624.5 460.0C1623.8 478.8 1623.7 495.8 1623.5 503.0" stroke-opacity="1.00"/>
<path d="M1622.4 527.0C1622.3 532.2 1621.9 552.8 1621.8 558.0" stroke-opacity="1.00"/>
<path d="M1618.0 598.0C1617.6 606.7 1616.2 641.3 1615.8 650.0" stroke-opacity="1.00"/>
<path d="M1681.8 222.8C1681.7 229.0 1681.8 232.1 1681.0 260.0C1680.2 287.9 1678.2 344.2 1677.0 390.0C1675.8 435.8 1674.7 494.8 1673.7 535.0C1672.7 575.2 1671.5 615.0 1671.0 631.0" stroke-opacity="1.00"/>
<path d="M1715.1 222.8C1714.5 250.7 1712.8 338.0 1711.8 390.0C1710.8 442.0 1709.8 494.8 1709.1 535.0C1708.4 575.2 1707.8 615.0 1707.5 631.0" stroke-opacity="1.00"/>
<path d="M1746.0 147.5C1745.8 163.8 1745.3 204.6 1744.5 245.0C1743.7 285.4 1742.3 341.7 1741.3 390.0C1740.3 438.3 1739.4 494.8 1738.6 535.0C1737.8 575.2 1736.8 615.0 1736.4 631.0" stroke-opacity="1.00"/>
<path d="M1775.1 136.0C1775.1 138.4 1775.0 148.2 1775.0 150.7" stroke-opacity="1.00"/>
<path d="M1774.0 192.8C1773.8 201.5 1773.6 212.1 1773.0 245.0C1772.4 277.9 1771.1 341.7 1770.2 390.0C1769.3 438.3 1768.5 487.9 1767.5 535.0C1766.5 582.1 1764.8 649.6 1764.2 672.5" stroke-opacity="0.90"/>
<path d="M1802.4 340.0C1802.3 348.3 1802.4 372.6 1801.9 390.0C1801.5 407.4 1800.4 420.4 1799.7 444.6C1799.0 468.8 1798.4 497.0 1797.5 535.0C1796.6 573.0 1794.8 649.6 1794.2 672.5" stroke-opacity="0.80"/>
</g>
<g id="contour-labels" font-size="11.5" fill="#45a826" fill-opacity="0.6">
<text x="1086.0" y="128.5" text-anchor="middle" transform="rotate(-88 1086.0 128.5)">−200</text>
<text x="1077.5" y="259.0" text-anchor="middle" transform="rotate(-88 1077.5 259.0)">−200</text>
<text x="1254.5" y="620.0" text-anchor="middle" transform="rotate(-71 1254.5 620.0)">−100</text>
<text x="1627.0" y="515.0" text-anchor="middle" transform="rotate(-88 1627.0 515.0)">0</text>
<text x="1620.0" y="662.0" text-anchor="middle" transform="rotate(-88 1620.0 662.0)">0</text>
<text x="1675.0" y="647.0" text-anchor="middle" transform="rotate(-88 1675.0 647.0)">100</text>
<text x="1711.0" y="647.0" text-anchor="middle" transform="rotate(-88 1711.0 647.0)">200</text>
<text x="1740.0" y="647.0" text-anchor="middle" transform="rotate(-88 1740.0 647.0)">300</text>
<text x="1779.0" y="171.0" text-anchor="middle" transform="rotate(-89 1779.0 171.0)">400</text>
</g>
<line x1="1010.1" y1="125.3" x2="1019.6" y2="125.3" stroke="#2a2a2a" stroke-width="1.50" />
<line x1="1010.1" y1="236.9" x2="1019.6" y2="236.9" stroke="#2a2a2a" stroke-width="1.50" />
<line x1="1010.1" y1="348.2" x2="1019.6" y2="348.2" stroke="#2a2a2a" stroke-width="1.50" />
<line x1="1010.1" y1="459.1" x2="1019.6" y2="459.1" stroke="#2a2a2a" stroke-width="1.50" />
<line x1="1010.1" y1="569.6" x2="1019.6" y2="569.6" stroke="#2a2a2a" stroke-width="1.50" />
<text x="997.5" y="135.3" font-size="33" font-weight="bold" text-anchor="middle" fill="#111" transform="rotate(-90 997.5 135.3)" letter-spacing="0.5">0.25</text>
<text x="997.5" y="239.5" font-size="33" font-weight="bold" text-anchor="middle" fill="#111" transform="rotate(-90 997.5 239.5)" letter-spacing="0.5">0.20</text>
<text x="997.5" y="353.4" font-size="33" font-weight="bold" text-anchor="middle" fill="#111" transform="rotate(-90 997.5 353.4)" letter-spacing="0.5">0.15</text>
<text x="997.5" y="463.1" font-size="33" font-weight="bold" text-anchor="middle" fill="#111" transform="rotate(-90 997.5 463.1)" letter-spacing="0.5">0.10</text>
<text x="997.5" y="573.4" font-size="33" font-weight="bold" text-anchor="middle" fill="#111" transform="rotate(-90 997.5 573.4)" letter-spacing="0.5">0.05</text>
<line x1="1064.0" y1="672.8" x2="1064.0" y2="685.5" stroke="#2a2a2a" stroke-width="1.50" />
<text x="1063.7" y="717.5" font-size="33" font-weight="bold" text-anchor="middle" fill="#111" >160</text>
<line x1="1168.8" y1="672.8" x2="1168.8" y2="685.5" stroke="#2a2a2a" stroke-width="1.50" />
<text x="1170.8" y="717.5" font-size="33" font-weight="bold" text-anchor="middle" fill="#111" >180</text>
<line x1="1273.7" y1="672.8" x2="1273.7" y2="685.5" stroke="#2a2a2a" stroke-width="1.50" />
<text x="1274.7" y="717.5" font-size="33" font-weight="bold" text-anchor="middle" fill="#111" >200</text>
<line x1="1378.5" y1="672.8" x2="1378.5" y2="685.5" stroke="#2a2a2a" stroke-width="1.50" />
<text x="1378.5" y="717.5" font-size="33" font-weight="bold" text-anchor="middle" fill="#111" >220</text>
<line x1="1483.4" y1="672.8" x2="1483.4" y2="685.5" stroke="#2a2a2a" stroke-width="1.50" />
<text x="1485.4" y="717.5" font-size="33" font-weight="bold" text-anchor="middle" fill="#111" >240</text>
<line x1="1588.2" y1="672.8" x2="1588.2" y2="685.5" stroke="#2a2a2a" stroke-width="1.50" />
<text x="1588.7" y="717.5" font-size="33" font-weight="bold" text-anchor="middle" fill="#111" >260</text>
<line x1="1693.1" y1="672.8" x2="1693.1" y2="685.5" stroke="#2a2a2a" stroke-width="1.50" />
<text x="1695.0" y="717.5" font-size="33" font-weight="bold" text-anchor="middle" fill="#111" >280</text>
<line x1="1797.9" y1="672.8" x2="1797.9" y2="685.5" stroke="#2a2a2a" stroke-width="1.50" />
<text x="1797.9" y="717.5" font-size="33" font-weight="bold" text-anchor="middle" fill="#111" >300</text>
</g>
<g id="labels">
<text x="33.0" y="52.3" font-size="51" font-weight="bold" text-anchor="start" fill="#111" >(a)</text>
<text x="925.5" y="50.8" font-size="51" font-weight="bold" text-anchor="start" fill="#111" >(c)</text>
<text x="33.2" y="852.6" font-size="51" font-weight="bold" text-anchor="start" fill="#111" >(b)</text>
<text x="464.8" y="768.4" fill="#111"><tspan font-size="48" dx="0.0" dy="0.0">Prec</tspan><tspan font-size="30.5" dx="0.3" dy="6.2">autumn</tspan></text>
<text x="47.7" y="455.4" fill="#111" transform="rotate(-90 47.7 455.4)"><tspan font-size="48" dx="0.0" dy="0.0">f</tspan><tspan font-size="30" dx="-3.9" dy="12.3">1</tspan><tspan font-size="48" dx="-0.9" dy="-12.3">(</tspan><tspan font-size="48.5" dx="-0.5" dy="0.0">Prec</tspan><tspan font-size="30.5" dx="-2.4" dy="11.0">autumn</tspan><tspan font-size="48" dx="6.0" dy="-11.0">)</tspan></text>
<text x="441.5" y="1579.7" fill="#111"><tspan font-size="48" dx="0.0" dy="0.0">BA</tspan></text>
<text x="47.7" y="1238.7" fill="#111" transform="rotate(-90 47.7 1238.7)"><tspan font-size="48" dx="0.0" dy="0.0">f</tspan><tspan font-size="29" dx="-3.0" dy="13.5">3</tspan><tspan font-size="48" dx="-0.5" dy="-13.5">(</tspan><tspan font-size="48" dx="1.5" dy="0.0">BA</tspan><tspan font-size="48" dx="1.3" dy="0.0">)</tspan></text>
<text x="1174.0" y="59.4" fill="#111"><tspan font-size="47.5" dx="0.0" dy="0.0">f</tspan><tspan font-size="27" dx="-3.0" dy="15.0">2</tspan><tspan font-size="47.5" dx="0.0" dy="-15.0">(</tspan><tspan font-size="47.5" dx="8.0" dy="0.0">Volume</tspan><tspan font-size="30" dx="1.2" dy="15.4">biomass</tspan><tspan font-size="47.5" dx="-2.5" dy="-15.4">,</tspan><tspan font-size="47.5" dx="4.0" dy="0.0">NDVI</tspan><tspan font-size="30" dx="-2.6" dy="15.4">diff</tspan><tspan font-size="47.5" dx="8.0" dy="-15.4">)</tspan></text>
<text x="1365.0" y="761.0" fill="#111"><tspan font-size="48" dx="0.0" dy="0.0">Volume</tspan><tspan font-size="30" dx="2.0" dy="6.5">biomass</tspan></text>
<text x="948.9" y="452.0" fill="#111" transform="rotate(-90 948.9 452.0)"><tspan font-size="47" dx="0.0" dy="0.0">NDVI</tspan><tspan font-size="30" dx="-3.0" dy="15.6">diff</tspan></text>
</g>
</svg>
</body>
</html>
